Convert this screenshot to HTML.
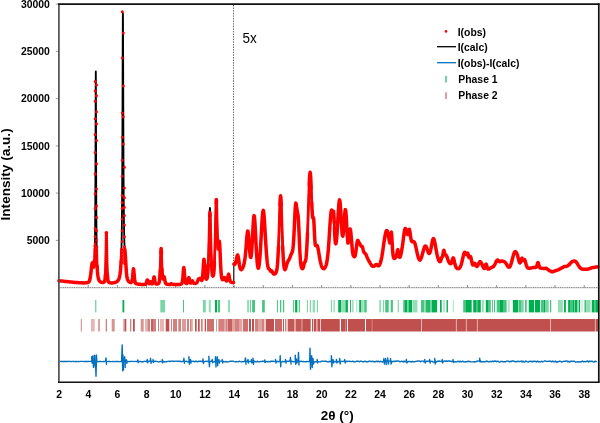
<!DOCTYPE html>
<html><head><meta charset="utf-8"><style>
html,body{margin:0;padding:0;background:#fff;width:600px;height:423px;overflow:hidden}
svg{display:block;will-change:transform;filter:blur(0.45px)}
text{font-family:"Liberation Sans",sans-serif}
.tl{font-size:10.4px;font-weight:bold;fill:#000}
.lg{font-size:10.4px;font-weight:bold;fill:#000}
.fx{font-size:13.5px;fill:#000}
.xt{font-size:13.5px;font-weight:bold;fill:#000}
.yt{font-size:13.6px;font-weight:bold;fill:#000}
</style></head><body>
<svg width="600" height="423" viewBox="0 0 600 423">
<rect width="600" height="423" fill="#fff"/>
<line x1="55.8" y1="240.4" x2="58.5" y2="240.4" stroke="#808080" stroke-width="0.8"/>
<text x="49.8" y="244.0" text-anchor="end" class="tl">5000</text>
<line x1="55.8" y1="193.1" x2="58.5" y2="193.1" stroke="#808080" stroke-width="0.8"/>
<text x="49.8" y="196.7" text-anchor="end" class="tl">10000</text>
<line x1="55.8" y1="145.9" x2="58.5" y2="145.9" stroke="#808080" stroke-width="0.8"/>
<text x="49.8" y="149.5" text-anchor="end" class="tl">15000</text>
<line x1="55.8" y1="98.6" x2="58.5" y2="98.6" stroke="#808080" stroke-width="0.8"/>
<text x="49.8" y="102.2" text-anchor="end" class="tl">20000</text>
<line x1="55.8" y1="51.4" x2="58.5" y2="51.4" stroke="#808080" stroke-width="0.8"/>
<text x="49.8" y="55.0" text-anchor="end" class="tl">25000</text>
<line x1="55.8" y1="4.1" x2="58.5" y2="4.1" stroke="#808080" stroke-width="0.8"/>
<text x="49.8" y="7.7" text-anchor="end" class="tl">30000</text>
<line x1="59.5" y1="287.7" x2="598" y2="287.7" stroke="#707070" stroke-width="1" stroke-dasharray="1.2 0.6"/>
<line x1="88.2" y1="285" x2="88.2" y2="287.7" stroke="#707070" stroke-width="0.8"/>
<line x1="117.4" y1="285" x2="117.4" y2="287.7" stroke="#707070" stroke-width="0.8"/>
<line x1="146.5" y1="285" x2="146.5" y2="287.7" stroke="#707070" stroke-width="0.8"/>
<line x1="175.7" y1="285" x2="175.7" y2="287.7" stroke="#707070" stroke-width="0.8"/>
<line x1="204.9" y1="285" x2="204.9" y2="287.7" stroke="#707070" stroke-width="0.8"/>
<line x1="234.1" y1="285" x2="234.1" y2="287.7" stroke="#707070" stroke-width="0.8"/>
<line x1="263.2" y1="285" x2="263.2" y2="287.7" stroke="#707070" stroke-width="0.8"/>
<line x1="292.4" y1="285" x2="292.4" y2="287.7" stroke="#707070" stroke-width="0.8"/>
<line x1="321.6" y1="285" x2="321.6" y2="287.7" stroke="#707070" stroke-width="0.8"/>
<line x1="350.8" y1="285" x2="350.8" y2="287.7" stroke="#707070" stroke-width="0.8"/>
<line x1="380.0" y1="285" x2="380.0" y2="287.7" stroke="#707070" stroke-width="0.8"/>
<line x1="409.1" y1="285" x2="409.1" y2="287.7" stroke="#707070" stroke-width="0.8"/>
<line x1="438.3" y1="285" x2="438.3" y2="287.7" stroke="#707070" stroke-width="0.8"/>
<line x1="467.5" y1="285" x2="467.5" y2="287.7" stroke="#707070" stroke-width="0.8"/>
<line x1="496.7" y1="285" x2="496.7" y2="287.7" stroke="#707070" stroke-width="0.8"/>
<line x1="525.8" y1="285" x2="525.8" y2="287.7" stroke="#707070" stroke-width="0.8"/>
<line x1="555.0" y1="285" x2="555.0" y2="287.7" stroke="#707070" stroke-width="0.8"/>
<line x1="584.2" y1="285" x2="584.2" y2="287.7" stroke="#707070" stroke-width="0.8"/>
<line x1="233.5" y1="5" x2="233.5" y2="287" stroke="#555" stroke-width="0.9" stroke-dasharray="1.4 1.2"/>
<text x="59.1" y="398.4" text-anchor="middle" class="tl">2</text>
<text x="88.3" y="398.4" text-anchor="middle" class="tl">4</text>
<text x="117.5" y="398.4" text-anchor="middle" class="tl">6</text>
<text x="146.6" y="398.4" text-anchor="middle" class="tl">8</text>
<text x="175.8" y="398.4" text-anchor="middle" class="tl">10</text>
<text x="205.0" y="398.4" text-anchor="middle" class="tl">12</text>
<text x="234.2" y="398.4" text-anchor="middle" class="tl">14</text>
<text x="263.3" y="398.4" text-anchor="middle" class="tl">16</text>
<text x="292.5" y="398.4" text-anchor="middle" class="tl">18</text>
<text x="321.7" y="398.4" text-anchor="middle" class="tl">20</text>
<text x="350.9" y="398.4" text-anchor="middle" class="tl">22</text>
<text x="380.1" y="398.4" text-anchor="middle" class="tl">24</text>
<text x="409.2" y="398.4" text-anchor="middle" class="tl">26</text>
<text x="438.4" y="398.4" text-anchor="middle" class="tl">28</text>
<text x="467.6" y="398.4" text-anchor="middle" class="tl">30</text>
<text x="496.8" y="398.4" text-anchor="middle" class="tl">32</text>
<text x="525.9" y="398.4" text-anchor="middle" class="tl">34</text>
<text x="555.1" y="398.4" text-anchor="middle" class="tl">36</text>
<text x="584.3" y="398.4" text-anchor="middle" class="tl">38</text>
<g fill="none" stroke="#000" stroke-width="1.8" stroke-linejoin="round">
<polyline points="58.90,280.7 59.22,280.8 59.54,280.8 59.86,280.8 60.18,280.9 60.50,280.9 60.82,280.9 61.14,281.0 61.46,281.0 61.78,281.0 62.10,281.1 62.42,281.1 62.74,281.1 63.06,281.2 63.38,281.2 63.70,281.3 64.02,281.3 64.34,281.3 64.66,281.4 64.98,281.4 65.30,281.4 65.62,281.5 65.94,281.5 66.26,281.5 66.58,281.6 66.90,281.6 67.22,281.6 67.54,281.7 67.86,281.7 68.18,281.7 68.50,281.8 68.82,281.8 69.14,281.8 69.46,281.9 69.78,281.9 70.10,281.9 70.42,282.0 70.74,282.0 71.06,282.0 71.38,282.1 71.70,282.1 72.02,282.1 72.34,282.2 72.66,282.2 72.98,282.2 73.30,282.3 73.62,282.3 73.94,282.3 74.26,282.4 74.58,282.4 74.90,282.4 75.22,282.4 75.54,282.5 75.86,282.5 76.18,282.5 76.50,282.5 76.82,282.6 77.14,282.6 77.46,282.6 77.78,282.6 78.10,282.6 78.42,282.7 78.74,282.7 79.06,282.7 79.38,282.7 79.70,282.7 80.02,282.7 80.34,282.8 80.66,282.8 80.98,282.8 81.30,282.8 81.62,282.8 81.94,282.8 82.26,282.8 82.58,282.8 82.90,282.9 83.22,282.9 83.54,282.9 83.86,282.9 84.18,282.9 84.50,282.9 84.82,282.9 85.14,282.8 85.46,282.8 85.78,282.8 86.10,282.8 86.42,282.8 86.74,282.7 87.06,282.7 87.38,282.6 87.70,282.5 88.02,282.4 88.34,282.3 88.66,282.0 88.98,281.7 89.30,281.2 89.62,280.4 89.94,279.3 90.26,277.7 90.58,275.6 90.90,273.0 91.22,270.1 91.54,267.2 91.86,264.6 92.18,263.0 92.50,262.7 92.82,263.5 93.14,265.0 93.46,266.4 93.78,267.1 94.10,266.3 94.42,262.8 94.50,261.3 94.54,260.4 94.58,259.4 94.62,258.3 94.66,257.1 94.70,255.7 94.74,254.2 94.78,252.5 94.82,250.6 94.86,248.5 94.90,246.2 94.94,243.6 94.98,240.7 95.02,237.4 95.06,233.7 95.10,229.5 95.14,224.9 95.18,219.6 95.22,213.7 95.26,207.0 95.30,199.4 95.34,191.0 95.38,181.5 95.42,171.0 95.46,159.4 95.50,146.9 95.54,133.6 95.58,119.9 95.62,106.5 95.66,94.0 95.70,83.4 95.74,75.6 95.78,71.5 95.82,71.5 95.86,75.7 95.90,83.5 95.94,94.2 95.98,106.8 96.02,120.3 96.06,134.1 96.10,147.4 96.14,160.0 96.18,171.7 96.22,182.3 96.26,191.8 96.30,200.4 96.34,208.0 96.38,214.8 96.42,220.8 96.46,226.2 96.50,230.9 96.54,235.2 96.58,239.0 96.62,242.4 96.66,245.5 96.70,248.2 96.74,250.7 96.78,252.9 96.82,254.9 96.86,256.8 96.90,258.4 96.94,260.0 96.98,261.4 97.02,262.6 97.06,263.8 97.10,264.9 97.14,265.9 97.18,266.8 97.22,267.7 97.54,272.7 97.86,275.6 98.18,277.5 98.50,278.8 98.82,279.8 99.14,280.4 99.46,280.9 99.78,281.3 100.10,281.6 100.42,281.9 100.74,282.0 101.06,282.2 101.38,282.3 101.70,282.4 102.02,282.4 102.34,282.5 102.66,282.5 102.98,282.4 103.30,282.4 103.62,282.3 103.94,282.1 104.26,281.8 104.58,281.3 104.90,280.2 105.22,277.0 105.30,275.6 105.34,274.7 105.38,273.8 105.42,272.7 105.46,271.6 105.50,270.3 105.54,268.9 105.58,267.4 105.62,265.8 105.66,264.0 105.70,262.2 105.74,260.2 105.78,258.1 105.82,256.0 105.86,253.8 105.90,251.5 105.94,249.3 105.98,247.0 106.02,244.7 106.06,242.5 106.10,240.4 106.14,238.5 106.18,236.7 106.22,235.1 106.26,233.8 106.30,232.8 106.50,232.8 106.54,233.8 106.58,235.1 106.62,236.7 106.66,238.5 106.70,240.5 106.74,242.6 106.78,244.8 106.82,247.0 106.86,249.3 106.90,251.6 106.94,253.8 106.98,256.0 107.02,258.2 107.06,260.2 107.10,262.2 107.14,264.0 107.18,265.8 107.22,267.4 107.26,268.9 107.30,270.3 107.34,271.6 107.38,272.8 107.42,273.8 107.46,274.8 107.50,275.6 107.82,279.8 108.14,281.2 108.46,281.9 108.78,282.2 109.10,282.4 109.42,282.6 109.74,282.7 110.06,282.8 110.38,282.8 110.70,282.9 111.02,282.9 111.34,282.9 111.66,282.9 111.98,282.9 112.30,282.9 112.62,282.9 112.94,282.8 113.26,282.8 113.58,282.8 113.90,282.7 114.22,282.7 114.54,282.6 114.86,282.5 115.18,282.4 115.50,282.3 115.82,282.2 116.14,282.1 116.46,281.9 116.78,281.7 117.10,281.5 117.42,281.2 117.74,280.8 118.06,280.4 118.38,279.9 118.70,279.3 119.02,278.6 119.34,277.6 119.66,276.3 119.98,274.6 120.30,272.2 120.62,268.9 120.94,264.0 121.02,262.4 121.06,261.6 121.10,260.7 121.14,259.7 121.18,258.6 121.22,257.5 121.26,256.4 121.30,255.1 121.34,253.8 121.38,252.4 121.42,250.9 121.46,249.2 121.50,247.5 121.54,245.6 121.58,243.6 121.62,241.5 121.66,239.2 121.70,236.7 121.74,233.9 121.78,231.0 121.82,227.9 121.86,224.4 121.90,220.7 121.94,216.7 121.98,212.3 122.02,207.5 122.06,202.3 122.10,196.6 122.14,190.4 122.18,183.7 122.22,176.4 122.26,168.4 122.30,159.8 122.34,150.4 122.38,140.4 122.42,129.6 122.46,118.2 122.50,106.1 122.54,93.6 122.58,80.9 122.62,68.1 122.66,55.6 122.70,43.9 122.74,33.3 122.78,24.4 122.82,17.7 122.86,13.5 122.94,13.4 122.98,17.5 123.02,24.2 123.06,32.9 123.10,43.4 123.14,55.0 123.18,67.3 123.22,80.0 123.26,92.7 123.30,105.0 123.34,116.9 123.38,128.2 123.42,138.8 123.46,148.7 123.50,157.9 123.54,166.3 123.58,174.1 123.62,181.2 123.66,187.7 123.70,193.7 123.74,199.1 123.78,204.0 123.82,208.5 123.86,212.6 123.90,216.4 123.94,219.8 123.98,222.8 124.02,225.7 124.06,228.2 124.10,230.5 124.14,232.6 124.18,234.5 124.22,236.3 124.26,237.8 124.30,239.3 124.34,240.6 124.38,241.7 124.42,242.8 124.46,243.7 124.50,244.6 124.82,249.2 125.14,252.5 125.46,256.9 125.78,262.3 126.10,267.8 126.42,272.3 126.74,275.5 127.06,277.7 127.38,279.0 127.70,279.9 128.02,280.5 128.34,281.0 128.66,281.4 128.98,281.7 129.30,281.9 129.62,282.1 129.94,282.3 130.26,282.4 130.58,282.5 130.90,282.5 131.22,282.5 131.54,282.3 131.86,281.7 132.18,280.4 132.50,278.0 132.82,274.6 133.14,270.8 133.46,268.8 133.78,270.2 134.10,273.8 134.42,277.6 134.74,280.4 135.06,282.1 135.38,282.9 135.70,283.3 136.02,283.5 136.34,283.7 136.66,283.8 136.98,283.9 137.30,283.9 137.62,284.0 137.94,284.1 138.26,284.1 138.58,284.2 138.90,284.2 139.22,284.2 139.54,284.3 139.86,284.3 140.18,284.3 140.50,284.3 140.82,284.4 141.14,284.4 141.46,284.4 141.78,284.4 142.10,284.5 142.42,284.5 142.74,284.5 143.06,284.5 143.38,284.5 143.70,284.5 144.02,284.5 144.34,284.5 144.66,284.5 144.98,284.4 145.30,284.3 145.62,284.0 145.94,283.6 146.26,282.8 146.58,281.8 146.90,280.7 147.22,279.9 147.54,279.9 147.86,280.6 148.18,281.6 148.50,282.6 148.82,283.3 149.14,283.7 149.46,283.7 149.78,283.3 150.10,282.5 150.42,281.8 150.74,281.7 151.06,282.4 151.38,283.2 151.70,283.8 152.02,283.9 152.34,283.8 152.66,283.3 152.98,282.3 153.30,280.6 153.62,278.6 153.94,277.0 154.26,277.0 154.58,278.6 154.90,280.6 155.22,282.2 155.54,283.2 155.86,283.8 156.18,284.0 156.50,284.1 156.82,284.1 157.14,284.0 157.46,284.0 157.78,283.9 158.10,283.7 158.42,283.5 158.74,283.2 159.06,282.6 159.38,281.3 159.70,278.5 160.02,273.2 160.06,272.4 160.10,271.5 160.14,270.5 160.18,269.5 160.22,268.5 160.26,267.4 160.30,266.3 160.34,265.2 160.38,264.0 160.42,262.8 160.46,261.6 160.50,260.4 160.54,259.2 160.58,258.1 160.62,256.9 160.66,255.8 160.70,254.7 160.74,253.6 160.78,252.6 160.82,251.7 161.14,248.6 161.38,251.6 161.42,252.5 161.46,253.5 161.50,254.5 161.54,255.6 161.58,256.7 161.62,257.8 161.66,259.0 161.70,260.2 161.74,261.3 161.78,262.5 161.82,263.7 161.86,264.8 161.90,265.9 161.94,267.0 161.98,268.0 162.02,269.0 162.06,269.9 162.10,270.8 162.14,271.7 162.46,276.7 162.78,278.8 163.10,278.8 163.42,277.9 163.74,276.9 164.06,276.8 164.38,277.7 164.70,279.4 165.02,281.0 165.34,282.3 165.66,283.2 165.98,283.7 166.30,284.0 166.62,284.2 166.94,284.2 167.26,284.3 167.58,284.4 167.90,284.4 168.22,284.4 168.54,284.4 168.86,284.5 169.18,284.5 169.50,284.5 169.82,284.4 170.14,284.3 170.46,284.1 170.78,283.9 171.10,283.7 171.42,283.7 171.74,283.9 172.06,284.1 172.38,284.3 172.70,284.4 173.02,284.5 173.34,284.5 173.66,284.6 173.98,284.6 174.30,284.5 174.62,284.5 174.94,284.5 175.26,284.5 175.58,284.5 175.90,284.5 176.22,284.5 176.54,284.5 176.86,284.5 177.18,284.5 177.50,284.5 177.82,284.5 178.14,284.5 178.46,284.5 178.78,284.5 179.10,284.4 179.42,284.4 179.74,284.4 180.06,284.3 180.38,284.3 180.70,284.2 181.02,284.1 181.34,283.9 181.66,283.7 181.98,283.2 182.30,282.1 182.62,280.0 182.94,276.6 183.26,272.2 183.58,268.4 183.90,267.6 184.22,270.5 184.54,274.9 184.86,278.7 185.18,281.2 185.50,282.6 185.82,283.2 186.14,283.4 186.46,283.5 186.78,283.5 187.10,283.3 187.42,282.8 187.74,281.8 188.06,280.4 188.38,278.7 188.70,277.6 189.02,277.9 189.34,279.3 189.66,280.9 189.98,282.1 190.30,282.9 190.62,283.1 190.94,283.0 191.26,282.7 191.58,282.0 191.90,281.3 192.22,280.8 192.54,281.0 192.86,281.6 193.18,282.4 193.50,282.9 193.82,283.2 194.14,283.4 194.46,283.4 194.78,283.4 195.10,283.4 195.42,283.3 195.74,283.3 196.06,283.2 196.38,283.1 196.70,282.8 197.02,282.5 197.34,281.9 197.66,281.0 197.98,280.1 198.30,279.3 198.62,278.9 198.94,278.9 199.26,278.9 199.58,278.8 199.90,278.4 200.22,278.2 200.54,278.4 200.86,279.1 201.18,279.9 201.50,280.3 201.82,280.3 202.14,279.6 202.46,277.8 202.78,274.7 203.10,270.2 203.42,265.0 203.74,260.6 204.06,259.3 204.38,261.8 204.70,266.5 205.02,271.4 205.34,275.2 205.66,277.6 205.98,278.8 206.30,279.2 206.62,279.1 206.94,278.5 207.26,277.3 207.58,275.0 207.90,271.0 208.06,268.1 208.10,267.3 208.14,266.4 208.18,265.5 208.22,264.5 208.26,263.5 208.30,262.4 208.34,261.3 208.38,260.1 208.42,258.8 208.46,257.6 208.50,256.2 208.54,254.8 208.58,253.4 208.62,251.9 208.66,250.4 208.70,248.8 208.74,247.2 208.78,245.5 208.82,243.8 208.86,242.1 208.90,240.4 208.94,238.6 208.98,236.8 209.02,235.0 209.06,233.2 209.10,231.4 209.14,229.6 209.18,227.8 209.22,226.0 209.26,224.3 209.30,222.6 209.34,220.9 209.38,219.3 209.42,217.7 209.46,216.3 209.50,214.9 209.54,213.6 209.58,212.4 209.62,211.3 209.66,210.4 209.98,207.9 210.14,210.2 210.18,211.2 210.22,212.2 210.26,213.4 210.30,214.6 210.34,216.0 210.38,217.4 210.42,219.0 210.46,220.5 210.50,222.2 210.54,223.9 210.58,225.6 210.62,227.3 210.66,229.1 210.70,230.9 210.74,232.7 210.78,234.5 210.82,236.2 210.86,238.0 210.90,239.7 210.94,241.5 210.98,243.2 211.02,244.8 211.06,246.4 211.10,248.0 211.14,249.6 211.18,251.1 211.22,252.5 211.26,254.0 211.30,255.3 211.34,256.6 211.38,257.9 211.42,259.1 211.46,260.2 211.50,261.3 211.54,262.4 211.58,263.4 211.62,264.3 211.66,265.2 211.70,266.1 212.02,271.3 212.34,274.2 212.66,275.6 212.98,275.9 213.30,275.5 213.62,274.1 213.94,271.4 214.26,266.8 214.34,265.2 214.38,264.3 214.42,263.4 214.46,262.5 214.50,261.5 214.54,260.5 214.58,259.4 214.62,258.2 214.66,257.1 214.70,255.8 214.74,254.5 214.78,253.2 214.82,251.8 214.86,250.4 214.90,248.9 214.94,247.4 214.98,245.8 215.02,244.2 215.06,242.6 215.10,240.9 215.14,239.2 215.18,237.5 215.22,235.7 215.26,233.9 215.30,232.1 215.34,230.3 215.38,228.4 215.42,226.6 215.46,224.7 215.50,222.9 215.54,221.1 215.58,219.3 215.62,217.5 215.66,215.8 215.70,214.1 215.74,212.5 215.78,210.9 215.82,209.4 215.86,208.0 215.90,206.6 215.94,205.4 215.98,204.2 216.02,203.2 216.06,202.3 216.38,199.7 216.58,202.7 216.62,203.6 216.66,204.7 216.70,205.8 216.74,207.1 216.78,208.4 216.82,209.8 216.86,211.3 216.90,212.8 216.94,214.3 216.98,215.9 217.02,217.6 217.06,219.2 217.10,220.8 217.14,222.5 217.18,224.1 217.22,225.7 217.26,227.3 217.30,228.9 217.34,230.5 217.38,232.0 217.42,233.5 217.46,234.9 217.50,236.3 217.54,237.6 217.58,238.8 217.62,240.0 217.66,241.2 217.70,242.2 217.74,243.2 217.78,244.2 217.82,245.0 218.14,249.1 218.46,248.8 218.78,245.6 219.10,242.0 219.42,241.3 219.74,244.9 219.86,247.2 219.90,248.1 219.94,249.0 219.98,249.9 220.02,250.8 220.06,251.8 220.10,252.7 220.14,253.7 220.18,254.7 220.22,255.6 220.26,256.6 220.30,257.6 220.34,258.5 220.38,259.5 220.42,260.4 220.46,261.3 220.50,262.2 220.54,263.1 220.58,264.0 220.62,264.8 220.94,270.6 221.26,274.6 221.58,277.1 221.90,278.6 222.22,279.3 222.54,279.7 222.86,279.7 223.18,279.4 223.50,278.9 223.82,278.3 224.14,277.7 224.46,277.5 224.78,277.8 225.10,278.5 225.42,279.3 225.74,280.1 226.06,280.6 226.38,280.9 226.70,280.9 227.02,280.5 227.34,279.5 227.66,278.1 227.98,276.3 228.30,274.8 228.62,274.2 228.94,275.0 229.26,276.7 229.58,278.6 229.90,280.1 230.22,281.1 230.54,281.7 230.86,282.0 231.18,282.2 231.50,282.3 231.82,282.4 232.14,282.4 232.46,282.5 232.78,282.5 233.10,282.6 233.42,282.6 233.58,282.6"/>
<polyline points="233.90,264.1 234.22,264.4 234.54,264.4 234.86,264.2 235.18,263.8 235.50,263.0 235.82,261.8 236.14,260.4 236.46,258.8 236.78,257.3 237.10,255.9 237.42,255.1 237.74,255.1 238.06,256.0 238.38,257.7 238.70,259.8 239.02,262.0 239.34,264.2 239.66,266.1 239.98,267.6 240.30,268.6 240.62,269.3 240.94,269.6 241.26,269.7 241.58,269.5 241.90,269.2 242.22,268.8 242.54,268.2 242.86,267.6 243.18,266.8 243.50,265.9 243.82,264.8 244.14,263.5 244.46,261.9 244.78,259.8 245.10,257.4 245.42,254.5 245.74,251.2 246.06,247.4 246.38,243.2 246.70,239.0 247.02,235.4 247.34,232.6 247.66,231.1 247.98,231.3 248.30,233.2 248.62,236.5 248.94,240.7 249.26,245.2 249.58,249.6 249.90,253.2 250.22,255.9 250.54,257.4 250.86,257.5 251.18,256.2 251.50,253.4 251.82,249.5 252.14,244.2 252.46,238.1 252.78,231.8 253.10,225.8 253.42,220.7 253.74,217.1 254.06,215.6 254.38,216.4 254.70,219.3 255.02,224.0 255.34,229.9 255.50,233.0 255.54,233.8 255.58,234.6 255.62,235.5 255.66,236.3 255.70,237.1 255.74,237.9 255.78,238.7 255.82,239.5 255.86,240.4 255.90,241.2 255.94,242.0 256.26,248.2 256.58,253.8 256.90,258.7 257.22,262.6 257.54,265.5 257.86,267.4 258.18,268.2 258.50,268.1 258.82,267.0 259.14,265.1 259.46,262.3 259.78,258.8 260.10,254.6 260.42,249.7 260.74,244.4 261.06,238.6 261.38,232.7 261.70,226.9 262.02,221.5 262.34,216.8 262.66,213.1 262.98,210.9 263.30,210.4 263.62,211.5 263.94,214.1 264.26,218.1 264.58,222.9 264.90,228.3 265.22,233.9 265.54,239.4 265.86,244.7 266.18,249.6 266.50,254.0 266.82,257.8 267.14,261.1 267.46,263.7 267.78,265.8 268.10,267.3 268.42,268.3 268.74,268.8 269.06,269.0 269.38,269.1 269.70,269.5 270.02,270.1 270.34,270.9 270.66,271.3 270.98,271.4 271.30,271.1 271.62,270.9 271.94,271.1 272.26,271.7 272.58,272.4 272.90,273.1 273.22,273.6 273.54,273.9 273.86,274.0 274.18,274.0 274.50,274.0 274.82,273.9 275.14,273.7 275.46,273.4 275.78,273.0 276.10,272.4 276.42,271.6 276.74,270.2 277.06,268.3 277.38,265.4 277.70,261.5 278.02,256.3 278.14,254.0 278.18,253.1 278.22,252.3 278.26,251.4 278.30,250.5 278.34,249.6 278.38,248.7 278.42,247.7 278.46,246.8 278.50,245.8 278.54,244.7 278.58,243.7 278.62,242.6 278.66,241.6 278.70,240.5 278.74,239.4 278.78,238.2 278.82,237.1 278.86,235.9 278.90,234.7 278.94,233.5 278.98,232.3 279.02,231.1 279.06,229.9 279.10,228.7 279.14,227.4 279.18,226.2 279.22,224.9 279.26,223.7 279.30,222.4 279.34,221.2 279.38,219.9 279.42,218.7 279.46,217.4 279.50,216.2 279.54,215.0 279.58,213.8 279.62,212.6 279.66,211.4 279.70,210.3 279.74,209.2 279.78,208.1 279.82,207.0 279.86,206.0 279.90,205.0 279.94,204.0 279.98,203.1 280.02,202.2 280.06,201.4 280.38,196.6 280.70,195.9 281.02,199.3 281.14,201.6 281.18,202.5 281.22,203.4 281.26,204.3 281.30,205.3 281.34,206.3 281.38,207.4 281.42,208.4 281.46,209.5 281.50,210.7 281.54,211.8 281.58,213.0 281.62,214.2 281.66,215.4 281.70,216.7 281.74,217.9 281.78,219.2 281.82,220.4 281.86,221.7 281.90,223.0 281.94,224.2 281.98,225.5 282.02,226.7 282.06,228.0 282.10,229.2 282.14,230.4 282.18,231.7 282.22,232.9 282.26,234.1 282.30,235.3 282.34,236.5 282.38,237.6 282.42,238.8 282.46,239.9 282.50,241.0 282.54,242.1 282.58,243.2 282.62,244.2 282.66,245.3 282.70,246.3 282.74,247.3 282.78,248.2 282.82,249.2 282.86,250.1 282.90,251.0 282.94,251.9 282.98,252.7 283.02,253.5 283.34,259.3 283.66,263.6 283.98,266.5 284.30,268.4 284.62,269.3 284.94,269.6 285.26,269.3 285.58,268.6 285.90,267.6 286.22,266.5 286.54,265.3 286.86,264.1 287.18,263.1 287.50,262.2 287.82,261.6 288.14,261.0 288.46,260.5 288.78,260.0 289.10,259.4 289.42,258.8 289.74,258.0 290.06,257.2 290.38,256.3 290.70,255.4 291.02,254.6 291.34,253.9 291.66,253.2 291.98,252.6 292.30,251.8 292.62,250.5 292.94,248.5 293.26,245.5 293.58,241.3 293.90,235.9 294.10,232.0 294.14,231.2 294.18,230.4 294.22,229.5 294.26,228.7 294.30,227.8 294.34,226.9 294.38,226.1 294.42,225.2 294.46,224.3 294.50,223.4 294.54,222.5 294.58,221.6 294.62,220.7 294.66,219.8 294.70,218.9 294.74,218.0 294.78,217.1 294.82,216.3 294.86,215.4 294.90,214.6 294.94,213.8 294.98,212.9 295.30,207.3 295.62,203.9 295.94,203.1 296.26,204.4 296.58,206.9 296.90,209.5 297.22,211.4 297.54,212.7 297.86,214.0 298.18,216.5 298.50,220.9 298.66,223.9 298.70,224.8 298.74,225.6 298.78,226.5 298.82,227.4 298.86,228.3 298.90,229.2 298.94,230.2 298.98,231.1 299.02,232.1 299.06,233.0 299.10,234.0 299.14,235.0 299.18,235.9 299.22,236.9 299.26,237.9 299.30,238.9 299.34,239.8 299.38,240.8 299.42,241.7 299.46,242.6 299.50,243.6 299.54,244.5 299.58,245.4 299.62,246.3 299.66,247.1 299.70,248.0 299.74,248.8 299.78,249.6 300.10,255.5 300.42,260.0 300.74,263.4 301.06,265.6 301.38,267.1 301.70,268.0 302.02,268.5 302.34,268.7 302.66,268.6 302.98,268.3 303.30,267.5 303.62,266.3 303.94,264.7 304.26,263.2 304.58,262.3 304.90,261.9 305.22,261.7 305.54,260.9 305.86,259.2 306.18,256.5 306.50,252.6 306.82,247.6 307.06,243.0 307.10,242.2 307.14,241.4 307.18,240.5 307.22,239.7 307.26,238.8 307.30,237.9 307.34,236.9 307.38,236.0 307.42,235.0 307.46,234.1 307.50,233.1 307.54,232.1 307.58,231.0 307.62,230.0 307.66,228.9 307.70,227.9 307.74,226.8 307.78,225.7 307.82,224.6 307.86,223.5 307.90,222.4 307.94,221.2 307.98,220.1 308.02,218.9 308.06,217.7 308.10,216.5 308.14,215.4 308.18,214.2 308.22,213.0 308.26,211.8 308.30,210.5 308.34,209.3 308.38,208.1 308.42,206.9 308.46,205.7 308.50,204.5 308.54,203.3 308.58,202.0 308.62,200.8 308.66,199.6 308.70,198.4 308.74,197.3 308.78,196.1 308.82,194.9 308.86,193.8 308.90,192.6 308.94,191.5 308.98,190.4 309.02,189.3 309.06,188.2 309.10,187.2 309.14,186.1 309.18,185.1 309.22,184.2 309.26,183.2 309.30,182.3 309.34,181.4 309.38,180.6 309.42,179.7 309.74,174.6 310.06,172.4 310.38,173.3 310.70,177.3 310.90,181.0 310.94,181.9 310.98,182.8 311.02,183.7 311.06,184.6 311.10,185.5 311.14,186.5 311.18,187.4 311.22,188.4 311.26,189.4 311.30,190.5 311.34,191.5 311.38,192.5 311.42,193.6 311.46,194.6 311.50,195.6 311.54,196.7 311.58,197.7 311.62,198.8 311.66,199.8 311.70,200.8 311.74,201.8 311.78,202.8 311.82,203.8 311.86,204.8 311.90,205.7 311.94,206.7 311.98,207.5 312.02,208.4 312.06,209.3 312.38,214.8 312.70,217.7 313.02,218.3 313.34,217.7 313.66,218.6 313.98,223.0 314.02,223.8 314.06,224.6 314.10,225.5 314.14,226.4 314.18,227.2 314.22,228.1 314.26,229.0 314.30,229.9 314.34,230.8 314.38,231.7 314.42,232.6 314.46,233.4 314.50,234.3 314.54,235.1 314.86,240.6 315.18,243.9 315.50,245.4 315.82,245.7 316.14,245.5 316.46,245.2 316.78,245.2 317.10,245.4 317.42,246.1 317.74,247.2 318.06,248.6 318.38,250.3 318.70,252.1 319.02,254.1 319.34,256.0 319.66,257.9 319.98,259.6 320.30,261.3 320.62,262.7 320.94,264.0 321.26,265.1 321.58,266.1 321.90,266.9 322.22,267.5 322.54,267.9 322.86,268.3 323.18,268.5 323.50,268.7 323.82,268.7 324.14,268.6 324.46,268.3 324.78,268.0 325.10,267.5 325.42,267.0 325.74,266.3 326.06,265.4 326.38,264.2 326.70,262.8 327.02,261.1 327.34,259.0 327.66,256.4 327.98,253.4 328.30,249.8 328.62,245.8 328.94,241.3 329.26,236.4 329.58,231.2 329.90,225.9 330.22,221.4 330.54,217.3 330.86,213.8 331.18,211.4 331.50,210.1 331.82,210.0 332.14,210.6 332.46,211.4 332.78,211.7 333.10,211.3 333.42,211.0 333.74,212.8 334.02,217.3 334.06,218.1 334.10,219.0 334.14,220.0 334.18,220.9 334.22,221.9 334.26,222.9 334.30,223.9 334.34,224.9 334.38,225.9 334.42,226.9 334.46,227.9 334.50,228.9 334.54,229.8 334.58,230.8 334.62,231.7 334.66,232.6 334.70,233.5 334.74,234.4 334.78,235.2 335.10,240.4 335.42,243.2 335.74,243.8 336.06,243.0 336.38,241.0 336.70,237.9 337.02,233.8 337.34,228.9 337.66,223.5 337.98,217.9 338.30,212.4 338.62,207.5 338.94,203.4 339.26,200.8 339.58,199.9 339.90,200.8 340.22,203.6 340.54,207.9 340.86,213.2 341.18,219.0 341.50,224.7 341.82,229.9 342.14,233.5 342.46,235.5 342.78,236.1 343.10,235.1 343.42,232.6 343.74,228.9 344.06,224.3 344.38,219.3 344.70,214.7 345.02,211.2 345.34,209.6 345.66,210.2 345.98,213.1 346.30,217.8 346.62,223.5 346.94,229.5 347.26,235.1 347.58,239.7 347.90,243.1 348.22,242.8 348.54,241.1 348.86,238.5 349.18,235.3 349.50,232.2 349.82,229.9 350.14,229.0 350.46,229.7 350.78,231.9 351.10,235.1 351.42,239.0 351.74,243.1 352.06,246.8 352.38,250.1 352.70,252.8 353.02,254.6 353.34,255.8 353.66,256.2 353.98,256.3 354.30,256.8 354.62,256.7 354.94,256.2 355.26,255.1 355.58,253.5 355.90,251.5 356.22,249.1 356.54,246.4 356.86,243.9 357.18,241.8 357.50,240.6 357.82,240.3 358.14,240.8 358.46,241.5 358.78,242.3 359.10,242.9 359.42,243.4 359.74,243.6 360.06,244.1 360.38,244.9 360.70,245.6 361.02,246.1 361.34,246.3 361.66,246.3 361.98,246.3 362.30,246.7 362.62,247.6 362.94,248.9 363.26,250.2 363.58,251.3 363.90,252.0 364.22,252.5 364.54,252.9 364.86,253.2 365.18,253.5 365.50,253.8 365.82,254.2 366.14,254.9 366.46,255.6 366.78,256.4 367.10,257.2 367.42,257.9 367.74,258.7 368.06,259.3 368.38,260.0 368.70,260.6 369.02,261.2 369.34,261.7 369.66,262.3 369.98,262.8 370.30,263.4 370.62,263.9 370.94,264.4 371.26,264.9 371.58,265.3 371.90,265.8 372.22,266.0 372.54,266.2 372.86,266.3 373.18,266.3 373.50,266.3 373.82,266.3 374.14,266.2 374.46,266.0 374.78,265.7 375.10,265.4 375.42,265.1 375.74,264.8 376.06,264.6 376.38,264.5 376.70,264.5 377.02,264.7 377.34,265.0 377.66,265.4 377.98,265.8 378.30,265.8 378.62,265.7 378.94,265.6 379.26,265.3 379.58,264.8 379.90,264.2 380.22,263.4 380.54,262.4 380.86,261.3 381.18,260.0 381.50,258.4 381.82,256.8 382.14,254.9 382.46,253.0 382.78,250.9 383.10,248.6 383.42,246.3 383.74,244.0 384.06,241.8 384.38,239.7 384.70,237.8 385.02,235.9 385.34,234.2 385.66,232.8 385.98,231.7 386.30,230.9 386.62,230.5 386.94,230.5 387.26,230.9 387.58,231.8 387.90,233.0 388.22,234.6 388.54,236.4 388.86,238.3 389.18,240.2 389.50,241.9 389.82,242.9 390.14,242.0 390.46,239.4 390.78,235.8 391.10,232.6 391.42,232.1 391.74,235.5 392.06,241.3 392.38,247.2 392.70,251.8 393.02,254.9 393.34,256.7 393.66,257.7 393.98,258.2 394.30,258.4 394.62,258.4 394.94,258.3 395.26,258.0 395.58,257.6 395.90,256.9 396.22,256.6 396.54,255.8 396.86,254.2 397.18,252.2 397.50,250.4 397.82,249.7 398.14,250.7 398.46,252.8 398.78,254.9 399.10,256.3 399.42,257.1 399.74,257.3 400.06,256.9 400.38,256.2 400.70,255.2 401.02,254.0 401.34,252.4 401.66,250.5 401.98,248.4 402.30,246.6 402.62,244.5 402.94,242.2 403.26,239.7 403.58,237.2 403.90,234.7 404.22,232.4 404.54,230.5 404.86,229.2 405.18,228.4 405.50,228.4 405.82,229.1 406.14,230.2 406.46,231.6 406.78,232.9 407.10,233.9 407.42,234.5 407.74,234.6 408.06,233.7 408.38,232.1 408.70,230.6 409.02,229.5 409.34,229.4 409.66,230.3 409.98,232.1 410.30,234.3 410.62,236.6 410.94,238.6 411.26,240.1 411.58,241.1 411.90,241.6 412.22,241.8 412.54,241.8 412.86,241.6 413.18,241.5 413.50,241.5 413.82,241.7 414.14,241.9 414.46,242.4 414.78,243.1 415.10,244.1 415.42,245.2 415.74,246.5 416.06,247.9 416.38,249.4 416.70,250.9 417.02,252.4 417.34,253.9 417.66,255.2 417.98,256.4 418.30,257.5 418.62,258.4 418.94,259.1 419.26,259.6 419.58,259.9 419.90,260.1 420.22,259.8 420.54,259.4 420.86,258.9 421.18,258.1 421.50,257.2 421.82,256.2 422.14,255.1 422.46,253.9 422.78,252.7 423.10,251.5 423.42,250.3 423.74,249.2 424.06,248.2 424.38,247.3 424.70,246.6 425.02,246.2 425.34,246.0 425.66,246.0 425.98,246.3 426.30,246.9 426.62,247.6 426.94,248.5 427.26,249.5 427.58,250.5 427.90,251.4 428.22,252.3 428.54,252.9 428.86,253.3 429.18,253.5 429.50,253.3 429.82,252.8 430.14,252.0 430.46,250.9 430.78,249.6 431.10,248.0 431.42,246.3 431.74,244.5 432.06,242.7 432.38,241.2 432.70,239.9 433.02,239.0 433.34,238.6 433.66,238.7 433.98,239.3 434.30,240.2 434.62,241.6 434.94,243.1 435.26,244.9 435.58,246.7 435.90,248.5 436.22,250.3 436.54,252.0 436.86,253.6 437.18,255.1 437.50,256.4 437.82,257.6 438.14,258.7 438.46,259.6 438.78,260.4 439.10,261.0 439.42,261.5 439.74,261.8 440.06,261.8 440.38,261.5 440.70,260.8 441.02,259.7 441.34,258.5 441.66,257.6 441.98,257.2 442.30,257.0 442.62,256.3 442.94,254.7 443.26,252.5 443.58,250.8 443.90,250.3 444.22,251.3 444.54,252.7 444.86,253.8 445.18,254.5 445.50,254.8 445.82,255.0 446.14,255.2 446.46,255.7 446.78,256.3 447.10,257.2 447.42,258.1 447.74,259.1 448.06,260.0 448.38,260.9 448.70,261.6 449.02,262.3 449.34,262.8 449.66,263.2 449.98,263.5 450.30,263.8 450.62,263.8 450.94,263.6 451.26,263.2 451.58,262.5 451.90,261.5 452.22,260.4 452.54,259.3 452.86,258.3 453.18,257.9 453.50,258.2 453.82,259.1 454.14,260.5 454.46,262.0 454.78,263.5 455.10,264.8 455.42,265.8 455.74,266.6 456.06,267.2 456.38,267.7 456.70,268.1 457.02,268.3 457.34,268.5 457.66,268.6 457.98,268.7 458.30,268.7 458.62,268.7 458.94,268.6 459.26,268.3 459.58,268.0 459.90,267.6 460.22,267.0 460.54,266.4 460.86,265.5 461.18,264.6 461.50,263.5 461.82,262.3 462.14,261.0 462.46,259.6 462.78,258.1 463.10,256.7 463.42,255.4 463.74,254.2 464.06,253.3 464.38,252.6 464.70,252.3 465.02,252.3 465.34,252.7 465.66,253.3 465.98,254.1 466.30,254.6 466.62,254.8 466.94,254.5 467.26,253.7 467.58,253.0 467.90,253.3 468.22,254.6 468.54,256.2 468.86,257.3 469.18,257.7 469.50,257.4 469.82,256.8 470.14,256.4 470.46,256.4 470.78,257.1 471.10,258.4 471.42,260.0 471.74,261.7 472.06,263.1 472.38,264.3 472.70,264.9 473.02,265.1 473.34,265.0 473.66,264.5 473.98,264.0 474.30,263.5 474.62,263.3 474.94,263.5 475.26,264.1 475.58,264.8 475.90,265.5 476.22,266.0 476.54,266.4 476.86,266.5 477.18,266.4 477.50,266.0 477.82,265.4 478.14,264.7 478.46,264.0 478.78,263.2 479.10,262.6 479.42,262.1 479.74,261.7 480.06,261.6 480.38,261.7 480.70,262.0 481.02,262.4 481.34,263.0 481.66,263.7 481.98,264.5 482.30,265.3 482.62,266.0 482.94,266.7 483.26,267.3 483.58,267.9 483.90,268.2 484.22,268.5 484.54,268.4 484.86,267.9 485.18,266.9 485.50,265.6 485.82,264.4 486.14,264.0 486.46,264.7 486.78,266.0 487.10,267.3 487.42,268.3 487.74,268.8 488.06,269.1 488.38,269.1 488.70,269.1 489.02,269.0 489.34,268.8 489.66,268.7 489.98,268.5 490.30,268.3 490.62,268.1 490.94,267.9 491.26,267.7 491.58,267.4 491.90,267.2 492.22,267.1 492.54,267.0 492.86,266.9 493.18,266.7 493.50,266.4 493.82,266.1 494.14,265.6 494.46,265.1 494.78,264.6 495.10,263.9 495.42,263.3 495.74,262.5 496.06,261.9 496.38,261.2 496.70,260.7 497.02,260.3 497.34,260.0 497.66,260.0 497.98,260.1 498.30,260.4 498.62,260.8 498.94,261.2 499.26,261.5 499.58,261.7 499.90,261.8 500.22,261.7 500.54,261.6 500.86,261.4 501.18,261.2 501.50,261.0 501.82,261.0 502.14,261.0 502.46,261.1 502.78,261.3 503.10,261.4 503.42,261.5 503.74,261.6 504.06,261.7 504.38,261.8 504.70,262.0 505.02,262.2 505.34,262.5 505.66,262.9 505.98,263.4 506.30,263.9 506.62,264.5 506.94,265.0 507.26,265.6 507.58,266.1 507.90,266.5 508.22,266.9 508.54,267.1 508.86,267.2 509.18,267.2 509.50,267.1 509.82,266.8 510.14,266.3 510.46,265.6 510.78,264.7 511.10,263.7 511.42,262.7 511.74,261.5 512.06,260.3 512.38,259.0 512.70,257.8 513.02,256.6 513.34,255.4 513.66,254.3 513.98,253.4 514.30,252.6 514.62,252.0 514.94,251.7 515.26,251.6 515.58,251.7 515.90,252.0 516.22,252.4 516.54,252.9 516.86,253.5 517.18,254.3 517.50,255.3 517.82,256.5 518.14,257.8 518.46,259.2 518.78,260.4 519.10,261.5 519.42,262.3 519.74,262.8 520.06,263.0 520.38,262.6 520.70,261.8 521.02,260.5 521.34,259.3 521.66,258.4 521.98,258.2 522.30,258.7 522.62,259.5 522.94,260.1 523.26,260.4 523.58,260.2 523.90,259.9 524.22,259.6 524.54,259.6 524.86,260.0 525.18,260.9 525.50,262.0 525.82,263.3 526.14,264.5 526.46,265.5 526.78,266.4 527.10,267.0 527.42,267.5 527.74,267.8 528.06,268.0 528.38,268.2 528.70,268.2 529.02,268.3 529.34,268.3 529.66,268.3 529.98,268.2 530.30,268.2 530.62,268.1 530.94,268.1 531.26,268.0 531.58,267.9 531.90,267.8 532.22,267.8 532.54,267.7 532.86,267.6 533.18,267.5 533.50,267.4 533.82,267.3 534.14,267.3 534.46,267.4 534.78,267.4 535.10,267.4 535.42,267.4 535.74,267.4 536.06,267.3 536.38,267.0 536.70,266.4 537.02,265.4 537.34,264.2 537.66,263.0 537.98,262.5 538.30,263.0 538.62,264.2 538.94,265.6 539.26,266.6 539.58,267.4 539.90,267.8 540.22,268.0 540.54,268.1 540.86,268.2 541.18,268.2 541.50,268.2 541.82,268.3 542.14,268.3 542.46,268.3 542.78,268.3 543.10,268.4 543.42,268.4 543.74,268.4 544.06,268.4 544.38,268.4 544.70,268.4 545.02,268.4 545.34,268.3 545.66,268.3 545.98,268.2 546.30,268.3 546.62,268.5 546.94,268.7 547.26,269.0 547.58,269.3 547.90,269.6 548.22,269.8 548.54,270.0 548.86,270.2 549.18,270.4 549.50,270.6 549.82,270.7 550.14,270.9 550.46,271.1 550.78,271.3 551.10,271.5 551.42,271.7 551.74,271.8 552.06,271.9 552.38,271.8 552.70,271.7 553.02,271.6 553.34,271.5 553.66,271.4 553.98,271.2 554.30,271.1 554.62,271.0 554.94,270.9 555.26,270.8 555.58,270.7 555.90,270.6 556.22,270.5 556.54,270.4 556.86,270.3 557.18,270.2 557.50,270.1 557.82,270.0 558.14,269.8 558.46,269.7 558.78,269.5 559.10,269.3 559.42,269.2 559.74,269.0 560.06,268.8 560.38,268.7 560.70,268.5 561.02,268.3 561.34,268.2 561.66,268.0 561.98,267.8 562.30,267.6 562.62,267.5 562.94,267.3 563.26,267.1 563.58,266.9 563.90,266.7 564.22,266.6 564.54,266.5 564.86,266.5 565.18,266.5 565.50,266.4 565.82,266.4 566.14,266.4 566.46,266.3 566.78,266.2 567.10,266.1 567.42,265.9 567.74,265.8 568.06,265.6 568.38,265.3 568.70,265.1 569.02,264.8 569.34,264.4 569.66,264.1 569.98,263.7 570.30,263.4 570.62,263.1 570.94,262.8 571.26,262.4 571.58,262.1 571.90,261.8 572.22,261.6 572.54,261.4 572.86,261.3 573.18,261.2 573.50,261.1 573.82,261.1 574.14,261.1 574.46,261.1 574.78,261.1 575.10,261.2 575.42,261.4 575.74,261.6 576.06,261.9 576.38,262.3 576.70,262.7 577.02,263.2 577.34,263.8 577.66,264.3 577.98,264.9 578.30,265.4 578.62,265.9 578.94,266.4 579.26,266.8 579.58,267.2 579.90,267.6 580.22,267.9 580.54,268.2 580.86,268.4 581.18,268.6 581.50,268.8 581.82,269.0 582.14,269.1 582.46,269.1 582.78,269.2 583.10,269.2 583.42,269.3 583.74,269.3 584.06,269.3 584.38,269.3 584.70,269.3 585.02,269.3 585.34,269.3 585.66,269.3 585.98,269.3 586.30,269.3 586.62,269.3 586.94,269.3 587.26,269.2 587.58,269.2 587.90,269.2 588.22,269.1 588.54,269.0 588.86,268.8 589.18,268.7 589.50,268.6 589.82,268.5 590.14,268.4 590.46,268.2 590.78,268.1 591.10,268.0 591.42,267.9 591.74,267.8 592.06,267.7 592.38,267.6 592.70,267.6 593.02,267.5 593.34,267.5 593.66,267.5 593.98,267.4 594.30,267.4 594.62,267.3 594.94,267.2 595.26,267.2 595.58,267.1 595.90,267.1 596.22,267.0 596.54,267.0 596.86,267.0 597.18,266.9 597.50,266.9 597.82,266.8 597.86,266.8"/>
<line x1="233.75" y1="283.5" x2="233.75" y2="265.5" stroke="#333" stroke-width="1.4"/>
</g>
<g fill="none" stroke="#ff0000" stroke-width="3.5" stroke-linejoin="round" stroke-linecap="round">
<polyline points="58.90,280.7 59.22,280.8 59.54,280.8 59.86,280.8 60.18,280.9 60.50,280.9 60.82,280.9 61.14,281.0 61.46,281.0 61.78,281.0 62.10,281.1 62.42,281.1 62.74,281.1 63.06,281.2 63.38,281.2 63.70,281.3 64.02,281.3 64.34,281.3 64.66,281.4 64.98,281.4 65.30,281.4 65.62,281.5 65.94,281.5 66.26,281.5 66.58,281.6 66.90,281.6 67.22,281.6 67.54,281.7 67.86,281.7 68.18,281.7 68.50,281.8 68.82,281.8 69.14,281.8 69.46,281.9 69.78,281.9 70.10,281.9 70.42,282.0 70.74,282.0 71.06,282.0 71.38,282.1 71.70,282.1 72.02,282.1 72.34,282.2 72.66,282.2 72.98,282.2 73.30,282.3 73.62,282.3 73.94,282.3 74.26,282.4 74.58,282.4 74.90,282.4 75.22,282.4 75.54,282.5 75.86,282.5 76.18,282.5 76.50,282.5 76.82,282.6 77.14,282.6 77.46,282.6 77.78,282.6 78.10,282.6 78.42,282.7 78.74,282.7 79.06,282.7 79.38,282.7 79.70,282.7 80.02,282.7 80.34,282.8 80.66,282.8 80.98,282.8 81.30,282.8 81.62,282.8 81.94,282.8 82.26,282.8 82.58,282.8 82.90,282.9 83.22,282.9 83.54,282.9 83.86,282.9 84.18,282.9 84.50,282.9 84.82,282.9 85.14,282.8 85.46,282.8 85.78,282.8 86.10,282.8 86.42,282.8 86.74,282.7 87.06,282.7 87.38,282.6 87.70,282.5 88.02,282.4 88.34,282.3 88.66,282.0 88.98,281.7 89.30,281.2 89.62,280.4 89.94,279.3 90.26,277.7 90.58,275.6 90.90,273.0 91.22,270.1 91.54,267.2 91.86,264.6 92.18,263.0 92.50,262.7 92.82,263.5 93.14,265.0 93.46,266.4 93.78,267.1 94.10,266.3 94.42,262.8 94.54,260.4"/>
<polyline points="97.14,265.9 97.46,271.7 97.78,275.0 98.10,277.1 98.42,278.6 98.74,279.6 99.06,280.3 99.38,280.8 99.70,281.2 100.02,281.6 100.34,281.8 100.66,282.0 100.98,282.2 101.30,282.3 101.62,282.4 101.94,282.4 102.26,282.5 102.58,282.5 102.90,282.5 103.22,282.4 103.54,282.3 103.86,282.2 104.18,281.9 104.50,281.5 104.82,280.6 105.14,278.1 105.34,274.7"/>
<polyline points="106.30,232.8 106.50,232.8"/>
<polyline points="107.46,274.8 107.78,279.4 108.10,281.1 108.42,281.8 108.74,282.2 109.06,282.4 109.38,282.6 109.70,282.7 110.02,282.8 110.34,282.8 110.66,282.9 110.98,282.9 111.30,282.9 111.62,282.9 111.94,282.9 112.26,282.9 112.58,282.9 112.90,282.8 113.22,282.8 113.54,282.8 113.86,282.7 114.18,282.7 114.50,282.6 114.82,282.5 115.14,282.4 115.46,282.3 115.78,282.2 116.10,282.1 116.42,281.9 116.74,281.7 117.06,281.5 117.38,281.2 117.70,280.9 118.02,280.5 118.34,280.0 118.66,279.4 118.98,278.7 119.30,277.7 119.62,276.5 119.94,274.8 120.26,272.6 120.58,269.4 120.90,264.8 121.10,260.7"/>
<polyline points="124.82,249.2 125.14,252.5 125.46,256.9 125.78,262.3 126.10,267.8 126.42,272.3 126.74,275.5 127.06,277.7 127.38,279.0 127.70,279.9 128.02,280.5 128.34,281.0 128.66,281.4 128.98,281.7 129.30,281.9 129.62,282.1 129.94,282.3 130.26,282.4 130.58,282.5 130.90,282.5 131.22,282.5 131.54,282.3 131.86,281.7 132.18,280.4 132.50,278.0 132.82,274.6 133.14,270.8 133.46,268.8 133.78,270.2 134.10,273.8 134.42,277.6 134.74,280.4 135.06,282.1 135.38,282.9 135.70,283.3 136.02,283.5 136.34,283.7 136.66,283.8 136.98,283.9 137.30,283.9 137.62,284.0 137.94,284.1 138.26,284.1 138.58,284.2 138.90,284.2 139.22,284.2 139.54,284.3 139.86,284.3 140.18,284.3 140.50,284.3 140.82,284.4 141.14,284.4 141.46,284.4 141.78,284.4 142.10,284.5 142.42,284.5 142.74,284.5 143.06,284.5 143.38,284.5 143.70,284.5 144.02,284.5 144.34,284.5 144.66,284.5 144.98,284.4 145.30,284.3 145.62,284.0 145.94,283.6 146.26,282.8 146.58,281.8 146.90,280.7 147.22,279.9 147.54,279.9 147.86,280.6 148.18,281.6 148.50,282.6 148.82,283.3 149.14,283.7 149.46,283.7 149.78,283.3 150.10,282.5 150.42,281.8 150.74,281.7 151.06,282.4 151.38,283.2 151.70,283.8 152.02,283.9 152.34,283.8 152.66,283.3 152.98,282.3 153.30,280.6 153.62,278.6 153.94,277.0 154.26,277.0 154.58,278.6 154.90,280.6 155.22,282.2 155.54,283.3 155.86,283.8 156.18,284.0 156.50,284.1 156.82,284.1 157.14,284.0 157.46,284.0 157.78,283.9 158.10,283.7 158.42,283.5 158.74,283.2 159.06,282.6 159.38,281.3 159.70,278.5 160.02,273.2 160.14,270.5"/>
<polyline points="160.78,252.6 161.10,248.5 161.42,252.5 161.46,253.5"/>
<polyline points="162.02,269.0 162.34,275.2 162.66,278.3 162.98,279.0 163.30,278.3 163.62,277.2 163.94,276.7 164.26,277.2 164.58,278.7 164.90,280.4 165.22,281.9 165.54,282.9 165.86,283.6 166.18,283.9 166.50,284.1 166.82,284.2 167.14,284.3 167.46,284.3 167.78,284.4 168.10,284.4 168.42,284.4 168.74,284.5 169.06,284.5 169.38,284.5 169.70,284.4 170.02,284.4 170.34,284.2 170.66,284.0 170.98,283.8 171.30,283.7 171.62,283.8 171.94,284.0 172.26,284.2 172.58,284.4 172.90,284.5 173.22,284.5 173.54,284.6 173.86,284.6 174.18,284.5 174.50,284.5 174.82,284.5 175.14,284.5 175.46,284.5 175.78,284.5 176.10,284.5 176.42,284.5 176.74,284.5 177.06,284.5 177.38,284.5 177.70,284.5 178.02,284.5 178.34,284.5 178.66,284.5 178.98,284.5 179.30,284.4 179.62,284.4 179.94,284.4 180.26,284.3 180.58,284.2 180.90,284.1 181.22,284.0 181.54,283.8 181.86,283.4 182.18,282.6 182.50,280.9 182.82,278.0 183.14,273.9 183.46,269.6 183.78,267.4 184.10,269.1 184.42,273.2 184.74,277.4 185.06,280.4 185.38,282.2 185.70,283.0 186.02,283.3 186.34,283.5 186.66,283.5 186.98,283.4 187.30,283.0 187.62,282.2 187.94,281.0 188.26,279.3 188.58,277.9 188.90,277.6 189.22,278.7 189.54,280.3 189.86,281.7 190.18,282.7 190.50,283.1 190.82,283.1 191.14,282.8 191.46,282.3 191.78,281.6 192.10,280.9 192.42,280.8 192.74,281.4 193.06,282.1 193.38,282.7 193.70,283.1 194.02,283.3 194.34,283.4 194.66,283.4 194.98,283.4 195.30,283.4 195.62,283.3 195.94,283.2 196.26,283.1 196.58,283.0 196.90,282.6 197.22,282.1 197.54,281.4 197.86,280.5 198.18,279.6 198.50,279.0 198.82,278.9 199.14,279.0 199.46,278.9 199.78,278.6 200.10,278.2 200.42,278.3 200.74,278.8 201.06,279.6 201.38,280.2 201.70,280.4 202.02,280.0 202.34,278.7 202.66,276.1 202.98,272.1 203.30,267.0 203.62,262.0 203.94,259.3 204.26,260.4 204.58,264.6 204.90,269.7 205.22,274.0 205.54,276.9 205.86,278.5 206.18,279.2 206.50,279.3 206.82,279.0 207.14,278.1 207.46,276.4 207.78,273.4 208.10,268.3 208.26,264.7"/>
<polyline points="209.62,216.0 209.94,212.6 210.18,215.8"/>
<polyline points="211.54,263.6 211.86,269.8 212.18,273.5 212.50,275.4 212.82,276.1 213.14,276.0 213.46,275.1 213.78,273.1 214.10,269.5 214.42,263.5 214.46,262.6"/>
<polyline points="216.02,203.2 216.34,199.5 216.58,202.7"/>
<polyline points="217.74,243.3 218.06,248.6 218.38,249.2 218.70,246.5 219.02,242.8 219.34,241.1 219.66,243.6 219.98,249.9 220.30,257.6 220.62,264.8 220.94,270.6 221.26,274.6 221.58,277.1 221.90,278.6 222.22,279.3 222.54,279.7 222.86,279.7 223.18,279.4 223.50,278.9 223.82,278.3 224.14,277.7 224.46,277.5 224.78,277.8 225.10,278.5 225.42,279.3 225.74,280.1 226.06,280.6 226.38,280.9 226.70,280.9 227.02,280.5 227.34,279.5 227.66,278.1 227.98,276.3 228.30,274.8 228.62,274.2 228.94,275.0 229.26,276.7 229.58,278.6 229.90,280.1 230.22,281.1 230.54,281.7 230.86,282.0 231.18,282.2 231.50,282.3 231.82,282.4 232.14,282.4 232.46,282.5 232.78,282.5 233.10,282.6 233.42,282.6 233.58,282.6"/>
<polyline points="233.90,264.1 234.22,264.4 234.54,264.4 234.86,264.2 235.18,263.8 235.50,263.0 235.82,261.8 236.14,260.4 236.46,258.8 236.78,257.3 237.10,255.9 237.42,255.1 237.74,255.1 238.06,256.0 238.38,257.7 238.70,259.8 239.02,262.0 239.34,264.2 239.66,266.1 239.98,267.6 240.30,268.6 240.62,269.3 240.94,269.6 241.26,269.7 241.58,269.5 241.90,269.2 242.22,268.8 242.54,268.2 242.86,267.6 243.18,266.8 243.50,265.9 243.82,264.8 244.14,263.5 244.46,261.9 244.78,259.8 245.10,257.4 245.42,254.5 245.74,251.2 246.06,247.4 246.38,243.2 246.70,239.0 247.02,235.4 247.34,232.6 247.66,231.1 247.98,231.3 248.30,233.2 248.62,236.5 248.94,240.7 249.26,245.2 249.58,249.6 249.90,253.2 250.22,255.9 250.54,257.4 250.86,257.5 251.18,256.2 251.50,253.4 251.82,249.5 252.14,244.2 252.46,238.1 252.78,231.8 253.10,225.8 253.42,220.7 253.74,217.1 254.06,215.6 254.38,216.4 254.70,219.3 255.02,224.0 255.34,229.9 255.66,236.3 255.98,242.8 256.30,248.9 256.62,254.5 256.94,259.2 257.26,263.0 257.58,265.8 257.90,267.5 258.22,268.2 258.54,268.0 258.86,266.8 259.18,264.8 259.50,261.9 259.82,258.3 260.14,254.0 260.46,249.1 260.78,243.7 261.10,237.9 261.42,232.0 261.74,226.2 262.06,220.8 262.38,216.2 262.70,212.8 263.02,210.8 263.34,210.4 263.66,211.7 263.98,214.5 264.30,218.6 264.62,223.6 264.94,229.0 265.26,234.6 265.58,240.1 265.90,245.3 266.22,250.2 266.54,254.5 266.86,258.2 267.18,261.4 267.50,264.0 267.82,266.0 268.14,267.5 268.46,268.4 268.78,268.8 269.10,269.0 269.42,269.1 269.74,269.5 270.06,270.2 270.38,271.0 270.70,271.3 271.02,271.3 271.34,271.1 271.66,270.9 271.98,271.2 272.30,271.8 272.62,272.5 272.94,273.2 273.26,273.6 273.58,273.9 273.90,274.0 274.22,274.0 274.54,274.0 274.86,273.9 275.18,273.7 275.50,273.4 275.82,273.0 276.14,272.3 276.46,271.4 276.78,270.0 277.10,268.0 277.42,265.0 277.74,260.9 278.06,255.5 278.38,248.7 278.46,246.8"/>
<polyline points="279.90,205.0 280.22,198.5 280.54,195.7 280.86,197.1 281.18,202.5 281.30,205.3"/>
<polyline points="282.70,246.3 283.02,253.5 283.34,259.3 283.66,263.6 283.98,266.5 284.30,268.4 284.62,269.3 284.94,269.6 285.26,269.3 285.58,268.6 285.90,267.6 286.22,266.5 286.54,265.3 286.86,264.1 287.18,263.1 287.50,262.2 287.82,261.6 288.14,261.0 288.46,260.5 288.78,260.0 289.10,259.4 289.42,258.8 289.74,258.0 290.06,257.2 290.38,256.3 290.70,255.4 291.02,254.6 291.34,253.9 291.66,253.2 291.98,252.6 292.30,251.8 292.62,250.5 292.94,248.5 293.26,245.5 293.58,241.3 293.90,235.9 294.22,229.5 294.54,222.5 294.86,215.4 295.18,209.2 295.50,204.9 295.82,203.1 296.14,203.7 296.46,205.9 296.78,208.6 297.10,210.7 297.42,212.2 297.74,213.4 298.06,215.3 298.38,219.0 298.70,224.8 299.02,232.1 299.34,239.8 299.66,247.1 299.98,253.4 300.30,258.5 300.62,262.3 300.94,264.9 301.26,266.6 301.58,267.7 301.90,268.3 302.22,268.7 302.54,268.7 302.86,268.4 303.18,267.8 303.50,266.8 303.82,265.3 304.14,263.8 304.46,262.6 304.78,262.0 305.10,261.8 305.42,261.3 305.74,260.0 306.06,257.7 306.38,254.2 306.70,249.6 307.02,243.8 307.34,236.9 307.50,233.1"/>
<polyline points="309.18,185.1 309.50,178.2 309.82,173.7 310.14,172.3 310.46,174.1 310.78,178.7 311.10,185.5 311.22,188.4"/>
<polyline points="311.78,202.8 312.10,210.1 312.42,215.3 312.74,217.9 313.06,218.2 313.38,217.6 313.70,218.9 314.02,223.8 314.34,230.8 314.66,237.4 314.98,242.1 315.30,244.6 315.62,245.6 315.94,245.7 316.26,245.4 316.58,245.2 316.90,245.2 317.22,245.6 317.54,246.5 317.86,247.7 318.18,249.2 318.50,251.0 318.82,252.8 319.14,254.8 319.46,256.7 319.78,258.5 320.10,260.3 320.42,261.8 320.74,263.2 321.06,264.5 321.38,265.5 321.70,266.4 322.02,267.1 322.34,267.7 322.66,268.1 322.98,268.4 323.30,268.6 323.62,268.7 323.94,268.7 324.26,268.5 324.58,268.2 324.90,267.8 325.22,267.3 325.54,266.7 325.86,265.9 326.18,265.0 326.50,263.8 326.82,262.2 327.14,260.4 327.46,258.1 327.78,255.4 328.10,252.1 328.42,248.4 328.74,244.1 329.06,239.5 329.38,234.4 329.70,229.2 330.02,224.2 330.34,219.8 330.66,215.9 330.98,212.8 331.30,210.8 331.62,210.0 331.94,210.2 332.26,210.9 332.58,211.6 332.90,211.6 333.22,211.1 333.54,211.4 333.86,214.4 334.18,220.9 334.26,222.9"/>
<polyline points="334.46,227.9 334.78,235.2 335.10,240.4 335.42,243.2 335.74,243.8 336.06,243.0 336.38,241.0 336.70,237.9 337.02,233.8 337.34,228.9 337.66,223.5 337.98,217.9 338.30,212.4 338.62,207.5 338.94,203.4 339.26,200.8 339.58,199.9 339.90,200.8 340.22,203.6 340.54,207.9 340.86,213.2 341.18,219.0 341.50,224.7 341.82,229.9 342.14,233.5 342.46,235.5 342.78,236.1 343.10,235.1 343.42,232.6 343.74,228.9 344.06,224.3 344.38,219.3 344.70,214.7 345.02,211.2 345.34,209.6 345.66,210.2 345.98,213.1 346.30,217.8 346.62,223.5 346.94,229.5 347.26,235.1 347.58,239.7 347.90,243.1 348.22,242.8 348.54,241.1 348.86,238.5 349.18,235.3 349.50,232.2 349.82,229.9 350.14,229.0 350.46,229.7 350.78,231.9 351.10,235.1 351.42,239.0 351.74,243.1 352.06,246.8 352.38,250.1 352.70,252.8 353.02,254.6 353.34,255.8 353.66,256.2 353.98,256.3 354.30,256.8 354.62,256.7 354.94,256.2 355.26,255.1 355.58,253.5 355.90,251.5 356.22,249.1 356.54,246.4 356.86,243.9 357.18,241.8 357.50,240.6 357.82,240.3 358.14,240.8 358.46,241.5 358.78,242.3 359.10,242.9 359.42,243.4 359.74,243.6 360.06,244.1 360.38,244.9 360.70,245.6 361.02,246.1 361.34,246.3 361.66,246.3 361.98,246.3 362.30,246.7 362.62,247.6 362.94,248.9 363.26,250.2 363.58,251.3 363.90,252.0 364.22,252.5 364.54,252.9 364.86,253.2 365.18,253.5 365.50,253.8 365.82,254.2 366.14,254.9 366.46,255.6 366.78,256.4 367.10,257.2 367.42,257.9 367.74,258.7 368.06,259.3 368.38,260.0 368.70,260.6 369.02,261.2 369.34,261.7 369.66,262.3 369.98,262.8 370.30,263.4 370.62,263.9 370.94,264.4 371.26,264.9 371.58,265.3 371.90,265.8 372.22,266.0 372.54,266.2 372.86,266.3 373.18,266.3 373.50,266.3 373.82,266.3 374.14,266.2 374.46,266.0 374.78,265.7 375.10,265.4 375.42,265.1 375.74,264.8 376.06,264.6 376.38,264.5 376.70,264.5 377.02,264.7 377.34,265.0 377.66,265.4 377.98,265.8 378.30,265.8 378.62,265.7 378.94,265.6 379.26,265.3 379.58,264.8 379.90,264.2 380.22,263.4 380.54,262.4 380.86,261.3 381.18,260.0 381.50,258.4 381.82,256.8 382.14,254.9 382.46,253.0 382.78,250.9 383.10,248.6 383.42,246.3 383.74,244.0 384.06,241.8 384.38,239.7 384.70,237.8 385.02,235.9 385.34,234.2 385.66,232.8 385.98,231.7 386.30,230.9 386.62,230.5 386.94,230.5 387.26,230.9 387.58,231.8 387.90,233.0 388.22,234.6 388.54,236.4 388.86,238.3 389.18,240.2 389.50,241.9 389.82,242.9 390.14,242.0 390.46,239.4 390.78,235.8 391.10,232.6 391.42,232.1 391.74,235.5 392.06,241.3 392.38,247.2 392.70,251.8 393.02,254.9 393.34,256.7 393.66,257.7 393.98,258.2 394.30,258.4 394.62,258.4 394.94,258.3 395.26,258.0 395.58,257.6 395.90,256.9 396.22,256.6 396.54,255.8 396.86,254.2 397.18,252.2 397.50,250.4 397.82,249.7 398.14,250.7 398.46,252.8 398.78,254.9 399.10,256.3 399.42,257.1 399.74,257.3 400.06,256.9 400.38,256.2 400.70,255.2 401.02,254.0 401.34,252.4 401.66,250.5 401.98,248.4 402.30,246.6 402.62,244.5 402.94,242.2 403.26,239.7 403.58,237.2 403.90,234.7 404.22,232.4 404.54,230.5 404.86,229.2 405.18,228.4 405.50,228.4 405.82,229.1 406.14,230.2 406.46,231.6 406.78,232.9 407.10,233.9 407.42,234.5 407.74,234.6 408.06,233.7 408.38,232.1 408.70,230.6 409.02,229.5 409.34,229.4 409.66,230.3 409.98,232.1 410.30,234.3 410.62,236.6 410.94,238.6 411.26,240.1 411.58,241.1 411.90,241.6 412.22,241.8 412.54,241.8 412.86,241.6 413.18,241.5 413.50,241.5 413.82,241.7 414.14,241.9 414.46,242.4 414.78,243.1 415.10,244.1 415.42,245.2 415.74,246.5 416.06,247.9 416.38,249.4 416.70,250.9 417.02,252.4 417.34,253.9 417.66,255.2 417.98,256.4 418.30,257.5 418.62,258.4 418.94,259.1 419.26,259.6 419.58,259.9 419.90,260.1 420.22,259.8 420.54,259.4 420.86,258.9 421.18,258.1 421.50,257.2 421.82,256.2 422.14,255.1 422.46,253.9 422.78,252.7 423.10,251.5 423.42,250.3 423.74,249.2 424.06,248.2 424.38,247.3 424.70,246.6 425.02,246.2 425.34,246.0 425.66,246.0 425.98,246.3 426.30,246.9 426.62,247.6 426.94,248.5 427.26,249.5 427.58,250.5 427.90,251.4 428.22,252.3 428.54,252.9 428.86,253.3 429.18,253.5 429.50,253.3 429.82,252.8 430.14,252.0 430.46,250.9 430.78,249.6 431.10,248.0 431.42,246.3 431.74,244.5 432.06,242.7 432.38,241.2 432.70,239.9 433.02,239.0 433.34,238.6 433.66,238.7 433.98,239.3 434.30,240.2 434.62,241.6 434.94,243.1 435.26,244.9 435.58,246.7 435.90,248.5 436.22,250.3 436.54,252.0 436.86,253.6 437.18,255.1 437.50,256.4 437.82,257.6 438.14,258.7 438.46,259.6 438.78,260.4 439.10,261.0 439.42,261.5 439.74,261.8 440.06,261.8 440.38,261.5 440.70,260.8 441.02,259.7 441.34,258.5 441.66,257.6 441.98,257.2 442.30,257.0 442.62,256.3 442.94,254.7 443.26,252.5 443.58,250.8 443.90,250.3 444.22,251.3 444.54,252.7 444.86,253.8 445.18,254.5 445.50,254.8 445.82,255.0 446.14,255.2 446.46,255.7 446.78,256.3 447.10,257.2 447.42,258.1 447.74,259.1 448.06,260.0 448.38,260.9 448.70,261.6 449.02,262.3 449.34,262.8 449.66,263.2 449.98,263.5 450.30,263.8 450.62,263.8 450.94,263.6 451.26,263.2 451.58,262.5 451.90,261.5 452.22,260.4 452.54,259.3 452.86,258.3 453.18,257.9 453.50,258.2 453.82,259.1 454.14,260.5 454.46,262.0 454.78,263.5 455.10,264.8 455.42,265.8 455.74,266.6 456.06,267.2 456.38,267.7 456.70,268.1 457.02,268.3 457.34,268.5 457.66,268.6 457.98,268.7 458.30,268.7 458.62,268.7 458.94,268.6 459.26,268.3 459.58,268.0 459.90,267.6 460.22,267.0 460.54,266.4 460.86,265.5 461.18,264.6 461.50,263.5 461.82,262.3 462.14,261.0 462.46,259.6 462.78,258.1 463.10,256.7 463.42,255.4 463.74,254.2 464.06,253.3 464.38,252.6 464.70,252.3 465.02,252.3 465.34,252.7 465.66,253.3 465.98,254.1 466.30,254.6 466.62,254.8 466.94,254.5 467.26,253.7 467.58,253.0 467.90,253.3 468.22,254.6 468.54,256.2 468.86,257.3 469.18,257.7 469.50,257.4 469.82,256.8 470.14,256.4 470.46,256.4 470.78,257.1 471.10,258.4 471.42,260.0 471.74,261.7 472.06,263.1 472.38,264.3 472.70,264.9 473.02,265.1 473.34,265.0 473.66,264.5 473.98,264.0 474.30,263.5 474.62,263.3 474.94,263.5 475.26,264.1 475.58,264.8 475.90,265.5 476.22,266.0 476.54,266.4 476.86,266.5 477.18,266.4 477.50,266.0 477.82,265.4 478.14,264.7 478.46,264.0 478.78,263.2 479.10,262.6 479.42,262.1 479.74,261.7 480.06,261.6 480.38,261.7 480.70,262.0 481.02,262.4 481.34,263.0 481.66,263.7 481.98,264.5 482.30,265.3 482.62,266.0 482.94,266.7 483.26,267.3 483.58,267.9 483.90,268.2 484.22,268.5 484.54,268.4 484.86,267.9 485.18,266.9 485.50,265.6 485.82,264.4 486.14,264.0 486.46,264.7 486.78,266.0 487.10,267.3 487.42,268.3 487.74,268.8 488.06,269.1 488.38,269.1 488.70,269.1 489.02,269.0 489.34,268.8 489.66,268.7 489.98,268.5 490.30,268.3 490.62,268.1 490.94,267.9 491.26,267.7 491.58,267.4 491.90,267.2 492.22,267.1 492.54,267.0 492.86,266.9 493.18,266.7 493.50,266.4 493.82,266.1 494.14,265.6 494.46,265.1 494.78,264.6 495.10,263.9 495.42,263.3 495.74,262.5 496.06,261.9 496.38,261.2 496.70,260.7 497.02,260.3 497.34,260.0 497.66,260.0 497.98,260.1 498.30,260.4 498.62,260.8 498.94,261.2 499.26,261.5 499.58,261.7 499.90,261.8 500.22,261.7 500.54,261.6 500.86,261.4 501.18,261.2 501.50,261.0 501.82,261.0 502.14,261.0 502.46,261.1 502.78,261.3 503.10,261.4 503.42,261.5 503.74,261.6 504.06,261.7 504.38,261.8 504.70,262.0 505.02,262.2 505.34,262.5 505.66,262.9 505.98,263.4 506.30,263.9 506.62,264.5 506.94,265.0 507.26,265.6 507.58,266.1 507.90,266.5 508.22,266.9 508.54,267.1 508.86,267.2 509.18,267.2 509.50,267.1 509.82,266.8 510.14,266.3 510.46,265.6 510.78,264.7 511.10,263.7 511.42,262.7 511.74,261.5 512.06,260.3 512.38,259.0 512.70,257.8 513.02,256.6 513.34,255.4 513.66,254.3 513.98,253.4 514.30,252.6 514.62,252.0 514.94,251.7 515.26,251.6 515.58,251.7 515.90,252.0 516.22,252.4 516.54,252.9 516.86,253.5 517.18,254.3 517.50,255.3 517.82,256.5 518.14,257.8 518.46,259.2 518.78,260.4 519.10,261.5 519.42,262.3 519.74,262.8 520.06,263.0 520.38,262.6 520.70,261.8 521.02,260.5 521.34,259.3 521.66,258.4 521.98,258.2 522.30,258.7 522.62,259.5 522.94,260.1 523.26,260.4 523.58,260.2 523.90,259.9 524.22,259.6 524.54,259.6 524.86,260.0 525.18,260.9 525.50,262.0 525.82,263.3 526.14,264.5 526.46,265.5 526.78,266.4 527.10,267.0 527.42,267.5 527.74,267.8 528.06,268.0 528.38,268.2 528.70,268.2 529.02,268.3 529.34,268.3 529.66,268.3 529.98,268.2 530.30,268.2 530.62,268.1 530.94,268.1 531.26,268.0 531.58,267.9 531.90,267.8 532.22,267.8 532.54,267.7 532.86,267.6 533.18,267.5 533.50,267.4 533.82,267.3 534.14,267.3 534.46,267.4 534.78,267.4 535.10,267.4 535.42,267.4 535.74,267.4 536.06,267.3 536.38,267.0 536.70,266.4 537.02,265.4 537.34,264.2 537.66,263.0 537.98,262.5 538.30,263.0 538.62,264.2 538.94,265.6 539.26,266.6 539.58,267.4 539.90,267.8 540.22,268.0 540.54,268.1 540.86,268.2 541.18,268.2 541.50,268.2 541.82,268.3 542.14,268.3 542.46,268.3 542.78,268.3 543.10,268.4 543.42,268.4 543.74,268.4 544.06,268.4 544.38,268.4 544.70,268.4 545.02,268.4 545.34,268.3 545.66,268.3 545.98,268.2 546.30,268.3 546.62,268.5 546.94,268.7 547.26,269.0 547.58,269.3 547.90,269.6 548.22,269.8 548.54,270.0 548.86,270.2 549.18,270.4 549.50,270.6 549.82,270.7 550.14,270.9 550.46,271.1 550.78,271.3 551.10,271.5 551.42,271.7 551.74,271.8 552.06,271.9 552.38,271.8 552.70,271.7 553.02,271.6 553.34,271.5 553.66,271.4 553.98,271.2 554.30,271.1 554.62,271.0 554.94,270.9 555.26,270.8 555.58,270.7 555.90,270.6 556.22,270.5 556.54,270.4 556.86,270.3 557.18,270.2 557.50,270.1 557.82,270.0 558.14,269.8 558.46,269.7 558.78,269.5 559.10,269.3 559.42,269.2 559.74,269.0 560.06,268.8 560.38,268.7 560.70,268.5 561.02,268.3 561.34,268.2 561.66,268.0 561.98,267.8 562.30,267.6 562.62,267.5 562.94,267.3 563.26,267.1 563.58,266.9 563.90,266.7 564.22,266.6 564.54,266.5 564.86,266.5 565.18,266.5 565.50,266.4 565.82,266.4 566.14,266.4 566.46,266.3 566.78,266.2 567.10,266.1 567.42,265.9 567.74,265.8 568.06,265.6 568.38,265.3 568.70,265.1 569.02,264.8 569.34,264.4 569.66,264.1 569.98,263.7 570.30,263.4 570.62,263.1 570.94,262.8 571.26,262.4 571.58,262.1 571.90,261.8 572.22,261.6 572.54,261.4 572.86,261.3 573.18,261.2 573.50,261.1 573.82,261.1 574.14,261.1 574.46,261.1 574.78,261.1 575.10,261.2 575.42,261.4 575.74,261.6 576.06,261.9 576.38,262.3 576.70,262.7 577.02,263.2 577.34,263.8 577.66,264.3 577.98,264.9 578.30,265.4 578.62,265.9 578.94,266.4 579.26,266.8 579.58,267.2 579.90,267.6 580.22,267.9 580.54,268.2 580.86,268.4 581.18,268.6 581.50,268.8 581.82,269.0 582.14,269.1 582.46,269.1 582.78,269.2 583.10,269.2 583.42,269.3 583.74,269.3 584.06,269.3 584.38,269.3 584.70,269.3 585.02,269.3 585.34,269.3 585.66,269.3 585.98,269.3 586.30,269.3 586.62,269.3 586.94,269.3 587.26,269.2 587.58,269.2 587.90,269.2 588.22,269.1 588.54,269.0 588.86,268.8 589.18,268.7 589.50,268.6 589.82,268.5 590.14,268.4 590.46,268.2 590.78,268.1 591.10,268.0 591.42,267.9 591.74,267.8 592.06,267.7 592.38,267.6 592.70,267.6 593.02,267.5 593.34,267.5 593.66,267.5 593.98,267.4 594.30,267.4 594.62,267.3 594.94,267.2 595.26,267.2 595.58,267.1 595.90,267.1 596.22,267.0 596.54,267.0 596.86,267.0 597.18,266.9 597.50,266.9 597.82,266.8 597.86,266.8"/>
</g>
<path fill="none" stroke="#ff0000" stroke-width="3.0" stroke-linecap="round" d="M94.58 259.4h0M94.62 258.3h0M94.66 257.1h0M94.70 255.7h0M94.74 254.2h0M94.78 252.5h0M94.82 250.6h0M96.74 250.7h0M96.78 252.9h0M96.82 254.9h0M96.86 256.8h0M96.90 258.4h0M96.94 260.0h0M96.98 261.4h0M97.02 262.6h0M97.06 263.8h0M97.10 264.9h0M105.38 273.8h0M105.42 272.7h0M105.46 271.6h0M105.50 270.3h0M105.54 268.9h0M105.58 267.4h0M105.62 265.8h0M105.66 264.0h0M105.70 262.2h0M105.74 260.2h0M105.78 258.1h0M105.82 256.0h0M105.86 253.8h0M105.90 251.5h0M105.94 249.3h0M105.98 247.0h0M106.02 244.7h0M106.06 242.5h0M106.10 240.4h0M106.14 238.5h0M106.18 236.7h0M106.22 235.1h0M106.26 233.8h0M106.54 233.8h0M106.58 235.1h0M106.62 236.7h0M106.66 238.5h0M106.70 240.5h0M106.74 242.6h0M106.78 244.8h0M106.82 247.0h0M106.86 249.3h0M106.90 251.6h0M106.94 253.8h0M106.98 256.0h0M107.02 258.2h0M107.06 260.2h0M107.10 262.2h0M107.14 264.0h0M107.18 265.8h0M107.22 267.4h0M107.26 268.9h0M107.30 270.3h0M107.34 271.6h0M107.38 272.8h0M107.42 273.8h0M121.14 259.7h0M121.18 258.6h0M121.22 257.5h0M121.26 256.4h0M121.30 255.1h0M121.34 253.8h0M121.38 252.4h0M121.42 250.9h0M121.46 249.2h0M160.18 269.5h0M160.22 268.5h0M160.26 267.4h0M160.30 266.3h0M160.34 265.2h0M160.38 264.0h0M160.42 262.8h0M160.46 261.6h0M160.50 260.4h0M160.54 259.2h0M160.58 258.1h0M160.62 256.9h0M160.66 255.8h0M160.70 254.7h0M160.74 253.6h0M161.50 254.5h0M161.54 255.6h0M161.58 256.7h0M161.62 257.8h0M161.66 259.0h0M161.70 260.2h0M161.74 261.3h0M161.78 262.5h0M161.82 263.7h0M161.86 264.8h0M161.90 265.9h0M161.94 267.0h0M161.98 268.0h0M208.30 263.7h0M208.34 262.6h0M208.38 261.5h0M208.42 260.4h0M208.46 259.2h0M208.50 257.9h0M208.54 256.6h0M208.58 255.3h0M208.62 253.9h0M208.66 252.5h0M208.70 251.0h0M208.74 249.5h0M208.78 247.9h0M208.82 246.4h0M208.86 244.8h0M208.90 243.1h0M208.94 241.5h0M208.98 239.8h0M209.02 238.1h0M209.06 236.4h0M209.10 234.7h0M209.14 233.0h0M209.18 231.4h0M209.22 229.7h0M209.26 228.1h0M209.30 226.5h0M209.34 224.9h0M209.38 223.4h0M209.42 222.0h0M209.46 220.6h0M209.50 219.3h0M209.54 218.1h0M209.58 217.0h0M210.22 216.8h0M210.26 217.9h0M210.30 219.1h0M210.34 220.3h0M210.38 221.7h0M210.42 223.1h0M210.46 224.6h0M210.50 226.1h0M210.54 227.7h0M210.58 229.3h0M210.62 230.9h0M210.66 232.6h0M210.70 234.2h0M210.74 235.9h0M210.78 237.6h0M210.82 239.2h0M210.86 240.9h0M210.90 242.5h0M210.94 244.1h0M210.98 245.7h0M211.02 247.2h0M211.06 248.8h0M211.10 250.2h0M211.14 251.7h0M211.18 253.1h0M211.22 254.4h0M211.26 255.8h0M211.30 257.0h0M211.34 258.2h0M211.38 259.4h0M211.42 260.5h0M211.46 261.6h0M211.50 262.6h0M214.50 261.6h0M214.54 260.6h0M214.58 259.5h0M214.62 258.3h0M214.66 257.1h0M214.70 255.9h0M214.74 254.6h0M214.78 253.3h0M214.82 251.9h0M214.86 250.5h0M214.90 249.0h0M214.94 247.5h0M214.98 245.9h0M215.02 244.3h0M215.06 242.6h0M215.10 241.0h0M215.14 239.3h0M215.18 237.5h0M215.22 235.7h0M215.26 233.9h0M215.30 232.1h0M215.34 230.3h0M215.38 228.5h0M215.42 226.6h0M215.46 224.8h0M215.50 222.9h0M215.54 221.1h0M215.58 219.3h0M215.62 217.6h0M215.66 215.8h0M215.70 214.1h0M215.74 212.5h0M215.78 210.9h0M215.82 209.4h0M215.86 208.0h0M215.90 206.6h0M215.94 205.4h0M215.98 204.2h0M216.62 203.6h0M216.66 204.7h0M216.70 205.8h0M216.74 207.1h0M216.78 208.4h0M216.82 209.8h0M216.86 211.3h0M216.90 212.8h0M216.94 214.3h0M216.98 215.9h0M217.02 217.6h0M217.06 219.2h0M217.10 220.8h0M217.14 222.5h0M217.18 224.1h0M217.22 225.7h0M217.26 227.4h0M217.30 228.9h0M217.34 230.5h0M217.38 232.0h0M217.42 233.5h0M217.46 234.9h0M217.50 236.3h0M217.54 237.6h0M217.58 238.9h0M217.62 240.1h0M217.66 241.2h0M217.70 242.3h0M278.50 245.8h0M278.54 244.7h0M278.58 243.7h0M278.62 242.6h0M278.66 241.6h0M278.70 240.5h0M278.74 239.4h0M278.78 238.2h0M278.82 237.1h0M278.86 235.9h0M278.90 234.7h0M278.94 233.5h0M278.98 232.3h0M279.02 231.1h0M279.06 229.9h0M279.10 228.7h0M279.14 227.4h0M279.18 226.2h0M279.22 224.9h0M279.26 223.7h0M279.30 222.4h0M279.34 221.2h0M279.38 219.9h0M279.42 218.7h0M279.46 217.4h0M279.50 216.2h0M279.54 215.0h0M279.58 213.8h0M279.62 212.6h0M279.66 211.4h0M279.70 210.3h0M279.74 209.2h0M279.78 208.1h0M279.82 207.0h0M279.86 206.0h0M281.34 206.3h0M281.38 207.4h0M281.42 208.4h0M281.46 209.5h0M281.50 210.7h0M281.54 211.8h0M281.58 213.0h0M281.62 214.2h0M281.66 215.4h0M281.70 216.7h0M281.74 217.9h0M281.78 219.2h0M281.82 220.4h0M281.86 221.7h0M281.90 223.0h0M281.94 224.2h0M281.98 225.5h0M282.02 226.7h0M282.06 228.0h0M282.10 229.2h0M282.14 230.4h0M282.18 231.7h0M282.22 232.9h0M282.26 234.1h0M282.30 235.3h0M282.34 236.5h0M282.38 237.6h0M282.42 238.8h0M282.46 239.9h0M282.50 241.0h0M282.54 242.1h0M282.58 243.2h0M282.62 244.2h0M282.66 245.3h0M307.54 232.1h0M307.58 231.0h0M307.62 230.0h0M307.66 228.9h0M307.70 227.9h0M307.74 226.8h0M307.78 225.7h0M307.82 224.6h0M307.86 223.5h0M307.90 222.4h0M307.94 221.2h0M307.98 220.1h0M308.02 218.9h0M308.06 217.7h0M308.10 216.5h0M308.14 215.4h0M308.18 214.2h0M308.22 213.0h0M308.26 211.8h0M308.30 210.5h0M308.34 209.3h0M308.38 208.1h0M308.42 206.9h0M308.46 205.7h0M308.50 204.5h0M308.54 203.3h0M308.58 202.0h0M308.62 200.8h0M308.66 199.6h0M308.70 198.4h0M308.74 197.3h0M308.78 196.1h0M308.82 194.9h0M308.86 193.8h0M308.90 192.6h0M308.94 191.5h0M308.98 190.4h0M309.02 189.3h0M309.06 188.2h0M309.10 187.2h0M309.14 186.1h0M311.26 189.4h0M311.30 190.5h0M311.34 191.5h0M311.38 192.5h0M311.42 193.6h0M311.46 194.6h0M311.50 195.6h0M311.54 196.7h0M311.58 197.7h0M311.62 198.8h0M311.66 199.8h0M311.70 200.8h0M311.74 201.8h0M334.30 223.9h0M334.34 224.9h0M334.38 225.9h0M334.42 226.9h0M95.20 81.6h0M96.50 85.0h0M95.20 91.0h0M96.50 95.7h0M95.20 101.3h0M96.50 111.7h0M95.20 118.8h0M96.50 123.8h0M95.20 134.4h0M96.50 140.4h0M95.20 152.6h0M96.50 163.8h0M95.20 173.9h0M96.50 189.0h0M95.20 193.7h0M96.50 206.0h0M95.20 208.8h0M96.50 217.4h0M95.20 228.5h0M96.50 230.8h0M95.20 236.7h0M96.50 240.3h0M95.20 243.8h0M94.80 246.0h0M96.80 247.0h0M94.80 249.0h0M96.80 250.0h0M94.80 252.0h0M96.80 253.0h0M94.80 255.0h0M96.80 256.0h0M94.80 258.0h0M96.80 259.0h0M94.80 261.0h0M96.80 262.0h0M122.30 11.8h0M123.30 33.0h0M122.30 58.0h0M123.30 86.0h0M122.30 113.0h0M123.30 116.7h0M122.30 137.3h0M123.30 143.9h0M122.20 160.2h0M124.40 167.3h0M122.20 176.3h0M124.40 188.1h0M122.20 195.4h0M124.40 197.7h0M122.20 202.5h0M124.40 207.2h0M122.20 208.4h0M124.40 215.5h0M122.20 219.0h0M124.40 225.0h0M122.20 230.8h0M124.40 236.7h0M122.20 241.5h0M124.40 246.7h0M122.00 250.0h0M124.60 251.5h0M122.00 253.0h0M124.60 254.5h0M122.00 256.0h0M124.60 257.5h0M122.00 259.0h0M124.60 260.5h0M122.00 262.0h0M124.60 263.5h0"/>
<g fill="#00b050"><rect x="95.30" y="300" width="1.00" height="12.4" fill-opacity="0.72"/><rect x="122.50" y="300" width="1.80" height="12.4" fill-opacity="1.00"/><rect x="160.30" y="300" width="4.70" height="12.4" fill-opacity="0.52"/><rect x="183.00" y="300" width="1.00" height="12.4" fill-opacity="0.72"/><rect x="202.90" y="300" width="2.90" height="12.4" fill-opacity="0.52"/><rect x="208.75" y="300" width="2.05" height="12.4" fill-opacity="0.42"/><rect x="215.00" y="300" width="2.10" height="12.4" fill-opacity="1.00"/><rect x="217.90" y="300" width="2.10" height="12.4" fill-opacity="0.72"/><rect x="227.90" y="300" width="2.10" height="12.4" fill-opacity="0.42"/><rect x="247.10" y="300" width="2.10" height="12.4" fill-opacity="0.42"/><rect x="250.00" y="300" width="0.80" height="12.4" fill-opacity="0.72"/><rect x="252.10" y="300" width="2.90" height="12.4" fill-opacity="0.72"/><rect x="262.10" y="300" width="2.70" height="12.4" fill-opacity="0.72"/><rect x="276.90" y="300" width="1.00" height="12.4" fill-opacity="0.72"/><rect x="280.00" y="300" width="1.25" height="12.4" fill-opacity="0.72"/><rect x="282.90" y="300" width="1.30" height="12.4" fill-opacity="0.72"/><rect x="293.00" y="300" width="0.90" height="12.4" fill-opacity="0.72"/><rect x="295.10" y="300" width="2.10" height="12.4" fill-opacity="1.00"/><rect x="297.60" y="300" width="0.90" height="12.4" fill-opacity="0.42"/><rect x="299.00" y="300" width="0.90" height="12.4" fill-opacity="0.72"/><rect x="306.90" y="300" width="0.80" height="12.4" fill-opacity="0.72"/><rect x="309.90" y="300" width="0.80" height="12.4" fill-opacity="0.72"/><rect x="312.60" y="300" width="2.50" height="12.4" fill-opacity="0.42"/><rect x="316.90" y="300" width="0.80" height="12.4" fill-opacity="0.72"/><rect x="330.90" y="300" width="0.80" height="12.4" fill-opacity="0.72"/><rect x="333.70" y="300" width="0.80" height="12.4" fill-opacity="0.72"/><rect x="338.20" y="300" width="2.80" height="12.4" fill-opacity="1.00"/><rect x="341.00" y="300" width="4.50" height="12.4" fill-opacity="0.42"/><rect x="345.50" y="300" width="2.40" height="12.4" fill-opacity="1.00"/><rect x="350.00" y="300" width="0.90" height="12.4" fill-opacity="1.00"/><rect x="352.50" y="300" width="0.80" height="12.4" fill-opacity="0.72"/><rect x="356.40" y="300" width="0.80" height="12.4" fill-opacity="0.42"/><rect x="359.20" y="300" width="2.10" height="12.4" fill-opacity="1.00"/><rect x="361.70" y="300" width="2.05" height="12.4" fill-opacity="0.42"/><rect x="364.20" y="300" width="2.50" height="12.4" fill-opacity="0.72"/><rect x="379.20" y="300" width="0.80" height="12.4" fill-opacity="0.42"/><rect x="382.90" y="300" width="0.80" height="12.4" fill-opacity="0.72"/><rect x="380.00" y="300" width="1.00" height="12.4" fill-opacity="0.42"/><rect x="385.20" y="300" width="3.55" height="12.4" fill-opacity="0.72"/><rect x="390.70" y="300" width="2.20" height="12.4" fill-opacity="0.72"/><rect x="397.80" y="300" width="0.80" height="12.4" fill-opacity="0.72"/><rect x="403.20" y="300" width="1.80" height="12.4" fill-opacity="0.72"/><rect x="405.00" y="300" width="2.00" height="12.4" fill-opacity="1.00"/><rect x="407.00" y="300" width="1.50" height="12.4" fill-opacity="0.52"/><rect x="408.50" y="300" width="3.60" height="12.4" fill-opacity="1.00"/><rect x="412.50" y="300" width="5.00" height="12.4" fill-opacity="0.42"/><rect x="421.00" y="300" width="3.00" height="12.4" fill-opacity="0.72"/><rect x="424.00" y="300" width="2.00" height="12.4" fill-opacity="0.42"/><rect x="426.00" y="300" width="4.00" height="12.4" fill-opacity="0.72"/><rect x="425.80" y="300" width="5.90" height="12.4" fill-opacity="0.52"/><rect x="431.70" y="300" width="5.40" height="12.4" fill-opacity="1.00"/><rect x="440.00" y="300" width="1.70" height="12.4" fill-opacity="1.00"/><rect x="443.60" y="300" width="0.80" height="12.4" fill-opacity="0.72"/><rect x="446.50" y="300" width="1.40" height="12.4" fill-opacity="1.00"/><rect x="452.90" y="300" width="0.80" height="12.4" fill-opacity="0.42"/><rect x="463.20" y="300" width="2.80" height="12.4" fill-opacity="0.72"/><rect x="466.00" y="300" width="5.70" height="12.4" fill-opacity="1.00"/><rect x="473.20" y="300" width="2.80" height="12.4" fill-opacity="1.00"/><rect x="476.00" y="300" width="2.00" height="12.4" fill-opacity="0.72"/><rect x="478.00" y="300" width="2.80" height="12.4" fill-opacity="1.00"/><rect x="482.00" y="300" width="1.75" height="12.4" fill-opacity="0.42"/><rect x="485.80" y="300" width="2.20" height="12.4" fill-opacity="1.00"/><rect x="488.00" y="300" width="2.80" height="12.4" fill-opacity="0.72"/><rect x="492.10" y="300" width="0.90" height="12.4" fill-opacity="0.72"/><rect x="494.00" y="300" width="1.00" height="12.4" fill-opacity="0.72"/><rect x="496.70" y="300" width="3.30" height="12.4" fill-opacity="0.72"/><rect x="500.00" y="300" width="3.00" height="12.4" fill-opacity="1.00"/><rect x="503.00" y="300" width="3.70" height="12.4" fill-opacity="0.72"/><rect x="508.30" y="300" width="1.30" height="12.4" fill-opacity="0.42"/><rect x="512.90" y="300" width="5.40" height="12.4" fill-opacity="1.00"/><rect x="518.75" y="300" width="2.25" height="12.4" fill-opacity="0.72"/><rect x="521.00" y="300" width="2.75" height="12.4" fill-opacity="0.52"/><rect x="525.00" y="300" width="1.70" height="12.4" fill-opacity="0.72"/><rect x="528.75" y="300" width="5.45" height="12.4" fill-opacity="1.00"/><rect x="535.00" y="300" width="5.00" height="12.4" fill-opacity="1.00"/><rect x="540.80" y="300" width="2.70" height="12.4" fill-opacity="0.72"/><rect x="543.50" y="300" width="1.50" height="12.4" fill-opacity="1.00"/><rect x="545.00" y="300" width="3.75" height="12.4" fill-opacity="0.52"/><rect x="550.00" y="300" width="1.25" height="12.4" fill-opacity="0.72"/><rect x="557.90" y="300" width="5.00" height="12.4" fill-opacity="0.42"/><rect x="564.00" y="300" width="1.90" height="12.4" fill-opacity="1.00"/><rect x="568.10" y="300" width="1.90" height="12.4" fill-opacity="1.00"/><rect x="570.00" y="300" width="3.00" height="12.4" fill-opacity="0.72"/><rect x="573.00" y="300" width="1.50" height="12.4" fill-opacity="1.00"/><rect x="574.90" y="300" width="2.60" height="12.4" fill-opacity="1.00"/><rect x="578.60" y="300" width="1.50" height="12.4" fill-opacity="1.00"/><rect x="581.60" y="300" width="0.80" height="12.4" fill-opacity="0.42"/><rect x="584.60" y="300" width="1.15" height="12.4" fill-opacity="1.00"/><rect x="586.10" y="300" width="4.50" height="12.4" fill-opacity="0.42"/><rect x="591.75" y="300" width="2.25" height="12.4" fill-opacity="1.00"/><rect x="594.00" y="300" width="2.00" height="12.4" fill-opacity="0.72"/><rect x="596.00" y="300" width="2.00" height="12.4" fill-opacity="1.00"/></g>
<g fill="#c0504d"><rect x="80.80" y="319" width="1.00" height="12.5" fill-opacity="0.72"/><rect x="91.00" y="319" width="3.70" height="12.5" fill-opacity="0.42"/><rect x="98.00" y="319" width="2.00" height="12.5" fill-opacity="0.52"/><rect x="105.70" y="319" width="1.30" height="12.5" fill-opacity="0.72"/><rect x="111.70" y="319" width="3.00" height="12.5" fill-opacity="0.62"/><rect x="123.00" y="319" width="1.50" height="12.5" fill-opacity="0.42"/><rect x="124.50" y="319" width="1.80" height="12.5" fill-opacity="1.00"/><rect x="130.00" y="319" width="1.30" height="12.5" fill-opacity="0.72"/><rect x="133.00" y="319" width="1.80" height="12.5" fill-opacity="1.00"/><rect x="140.70" y="319" width="3.00" height="12.5" fill-opacity="0.62"/><rect x="145.00" y="319" width="2.50" height="12.5" fill-opacity="0.42"/><rect x="147.50" y="319" width="2.50" height="12.5" fill-opacity="0.72"/><rect x="151.00" y="319" width="2.00" height="12.5" fill-opacity="0.90"/><rect x="153.00" y="319" width="3.00" height="12.5" fill-opacity="0.72"/><rect x="158.00" y="319" width="1.00" height="12.5" fill-opacity="0.72"/><rect x="160.00" y="319" width="4.00" height="12.5" fill-opacity="0.42"/><rect x="165.70" y="319" width="3.60" height="12.5" fill-opacity="1.00"/><rect x="171.00" y="319" width="1.00" height="12.5" fill-opacity="0.72"/><rect x="173.00" y="319" width="4.00" height="12.5" fill-opacity="0.72"/><rect x="178.30" y="319" width="2.70" height="12.5" fill-opacity="0.72"/><rect x="182.00" y="319" width="4.00" height="12.5" fill-opacity="0.57"/><rect x="187.00" y="319" width="2.00" height="12.5" fill-opacity="0.72"/><rect x="190.00" y="319" width="1.50" height="12.5" fill-opacity="0.72"/><rect x="191.50" y="319" width="1.50" height="12.5" fill-opacity="0.42"/><rect x="195.00" y="319" width="1.70" height="12.5" fill-opacity="1.00"/><rect x="198.00" y="319" width="1.70" height="12.5" fill-opacity="1.00"/><rect x="201.00" y="319" width="1.70" height="12.5" fill-opacity="0.72"/><rect x="204.70" y="319" width="1.30" height="12.5" fill-opacity="1.00"/><rect x="207.00" y="319" width="7.00" height="12.5" fill-opacity="0.82"/><rect x="216.00" y="319" width="0.80" height="12.5" fill-opacity="0.72"/><rect x="218.30" y="319" width="6.20" height="12.5" fill-opacity="0.72"/><rect x="224.50" y="319" width="1.00" height="12.5" fill-opacity="0.42"/><rect x="225.50" y="319" width="2.20" height="12.5" fill-opacity="0.72"/><rect x="228.00" y="319" width="4.00" height="12.5" fill-opacity="0.90"/><rect x="232.00" y="319" width="3.00" height="12.5" fill-opacity="0.52"/><rect x="235.00" y="319" width="4.00" height="12.5" fill-opacity="0.72"/><rect x="239.00" y="319" width="3.30" height="12.5" fill-opacity="0.52"/><rect x="243.00" y="319" width="5.00" height="12.5" fill-opacity="0.82"/><rect x="249.00" y="319" width="2.00" height="12.5" fill-opacity="1.00"/><rect x="252.00" y="319" width="2.00" height="12.5" fill-opacity="1.00"/><rect x="255.00" y="319" width="3.00" height="12.5" fill-opacity="0.72"/><rect x="258.00" y="319" width="4.00" height="12.5" fill-opacity="0.52"/><rect x="262.00" y="319" width="2.00" height="12.5" fill-opacity="0.72"/><rect x="264.30" y="319" width="1.40" height="12.5" fill-opacity="0.42"/><rect x="266.00" y="319" width="8.00" height="12.5" fill-opacity="1.00"/><rect x="275.00" y="319" width="7.00" height="12.5" fill-opacity="0.87"/><rect x="283.00" y="319" width="1.00" height="12.5" fill-opacity="1.00"/><rect x="285.00" y="319" width="1.00" height="12.5" fill-opacity="0.72"/><rect x="286.00" y="319" width="2.00" height="12.5" fill-opacity="0.32"/><rect x="288.00" y="319" width="6.00" height="12.5" fill-opacity="0.95"/><rect x="294.00" y="319" width="2.00" height="12.5" fill-opacity="0.52"/><rect x="296.00" y="319" width="5.70" height="12.5" fill-opacity="0.95"/><rect x="301.70" y="319" width="0.80" height="12.5" fill-opacity="0.32"/><rect x="302.3" y="319" width="296" height="12.5"/></g>
<g fill="#fff"><rect x="310.70" y="318.5" width="1.30" height="13.5" fill-opacity="1.00"/><rect x="313.00" y="318.5" width="0.70" height="13.5" fill-opacity="1.00"/><rect x="316.00" y="318.5" width="1.70" height="13.5" fill-opacity="0.50"/><rect x="320.00" y="318.5" width="0.70" height="13.5" fill-opacity="1.00"/><rect x="339.80" y="318.5" width="1.20" height="13.5" fill-opacity="1.00"/><rect x="345.30" y="318.5" width="0.60" height="13.5" fill-opacity="0.50"/><rect x="347.00" y="318.5" width="1.00" height="13.5" fill-opacity="1.00"/><rect x="365.00" y="318.5" width="1.00" height="13.5" fill-opacity="1.00"/><rect x="371.80" y="318.5" width="0.60" height="13.5" fill-opacity="0.50"/><rect x="421.20" y="318.5" width="0.70" height="13.5" fill-opacity="0.80"/><rect x="455.90" y="318.5" width="0.70" height="13.5" fill-opacity="0.80"/><rect x="465.90" y="318.5" width="0.70" height="13.5" fill-opacity="0.80"/><rect x="476.90" y="318.5" width="0.70" height="13.5" fill-opacity="0.80"/><rect x="550.00" y="318.5" width="0.70" height="13.5" fill-opacity="0.80"/><rect x="594.90" y="318.5" width="0.70" height="13.5" fill-opacity="0.80"/></g>
<polyline fill="none" stroke="#0070c0" stroke-width="1.4" stroke-linejoin="round" points="59.5,361.4 60.4,361.4 61.3,361.5 62.2,361.4 63.1,361.5 64.0,361.5 64.9,361.4 65.8,361.5 66.7,361.4 67.6,361.5 68.5,361.4 69.4,361.4 70.3,361.5 71.2,361.6 72.1,361.4 73.0,361.4 73.9,361.5 74.8,361.6 75.7,361.5 76.6,361.5 77.5,361.6 78.4,361.4 79.3,361.6 80.2,361.4 81.1,361.4 82.0,361.4 82.9,361.4 83.8,361.6 84.7,361.4 85.6,361.5 86.5,361.5 87.4,361.5 88.3,361.5 89.2,361.4 90.1,361.4 91.0,361.4 91.9,361.6 91.7,356.7 92.2,363.3 92.8,361.5 93.0,355.8 93.5,367.5 93.7,361.4 94.6,361.5 94.7,355.3 95.2,366.7 95.5,361.5 95.5,361.0 96.0,376.3 96.4,361.4 96.4,355.0 96.9,362.0 97.3,361.6 98.2,361.6 99.1,361.4 100.0,361.5 100.9,361.5 101.8,361.6 102.7,361.6 103.6,361.4 104.5,361.6 105.4,361.4 106.0,358.0 106.5,364.2 106.3,361.5 107.2,361.6 108.1,361.4 109.0,361.5 109.9,361.4 110.8,361.6 111.7,361.6 112.6,361.5 113.5,361.6 114.4,361.4 115.3,361.6 116.2,361.5 117.1,361.5 118.0,361.5 118.9,361.6 119.8,361.6 120.7,361.5 121.6,361.5 122.2,345.0 122.7,370.8 122.5,361.4 123.0,355.0 123.5,370.0 123.4,361.6 124.3,361.5 124.7,356.7 125.2,367.5 125.2,361.6 126.1,361.6 126.4,359.7 126.9,363.3 127.0,361.4 127.9,361.5 128.8,361.6 129.7,361.4 130.6,361.5 131.5,361.4 132.4,361.4 133.3,361.4 134.2,361.6 135.1,361.4 136.0,361.4 136.9,361.5 137.8,361.6 137.7,360.0 138.2,362.5 138.7,361.4 139.6,361.5 140.5,361.5 141.4,361.8 142.3,361.8 143.2,361.8 144.1,361.3 145.0,361.4 145.9,361.4 146.8,361.8 147.2,359.5 147.7,362.8 147.7,361.9 148.6,361.2 149.5,361.2 150.4,361.3 150.5,358.3 151.0,363.3 151.3,361.3 152.2,361.5 153.1,361.6 153.0,359.5 153.5,362.5 154.0,361.3 154.9,361.1 155.8,361.4 156.7,361.4 157.6,361.6 158.5,361.9 159.4,361.7 160.3,361.5 161.2,361.6 162.1,361.7 162.2,359.5 162.7,362.8 163.0,361.1 163.9,361.9 164.8,361.8 165.7,361.8 166.6,361.8 167.5,361.4 168.4,361.4 169.3,361.1 170.2,361.6 171.1,361.1 172.0,361.1 172.9,361.2 173.8,361.2 174.7,361.4 175.6,361.1 176.5,361.1 177.4,361.2 178.3,361.1 179.2,361.4 180.1,361.1 181.0,361.8 181.9,361.6 182.8,361.2 183.7,361.3 183.9,358.3 184.4,363.3 184.6,361.4 185.5,361.4 186.4,361.2 187.3,361.8 188.2,361.9 189.1,361.5 188.9,356.7 189.4,364.2 190.0,361.5 190.5,359.5 191.0,363.0 190.9,361.1 191.8,361.1 192.7,361.4 193.6,361.3 194.5,361.8 195.4,361.2 196.3,361.1 197.2,361.9 198.1,361.5 199.0,361.2 199.9,361.5 200.8,361.1 201.7,361.5 202.6,361.9 203.0,359.0 203.5,363.5 203.5,361.8 204.4,361.7 205.3,361.3 206.2,361.4 207.1,361.2 208.0,361.7 208.9,361.5 208.9,356.3 209.4,366.7 209.8,361.8 210.7,361.3 211.6,361.3 212.2,359.5 212.7,362.8 212.5,361.8 213.4,361.9 214.3,361.8 215.2,361.8 215.5,356.7 216.0,367.0 216.1,361.8 217.0,361.7 217.2,356.7 217.7,365.8 217.9,361.3 218.8,361.5 218.9,359.5 219.4,363.0 219.7,361.4 220.6,361.1 221.5,361.1 222.4,361.3 222.2,359.5 222.7,363.0 223.3,361.3 224.2,361.7 225.1,361.9 226.0,361.5 226.9,361.9 227.8,361.9 228.7,361.9 229.6,361.4 230.5,361.2 231.4,361.3 232.3,361.2 233.2,361.2 234.1,361.6 235.0,361.9 235.9,361.8 236.8,361.5 237.7,361.6 238.6,361.8 239.5,361.1 240.4,361.6 241.3,361.9 242.2,361.8 243.1,361.7 244.0,361.5 244.9,361.2 245.5,358.0 246.0,364.2 245.8,361.8 246.7,361.3 247.6,361.8 248.0,359.5 248.5,363.0 248.5,361.9 249.4,361.4 250.3,361.4 251.2,361.9 251.4,359.5 251.9,363.0 252.1,361.7 253.0,361.2 253.0,358.3 253.5,364.2 253.9,361.2 254.8,361.2 255.7,361.9 256.6,361.8 257.5,361.2 258.4,361.8 259.3,361.9 260.2,361.6 261.1,361.4 262.0,361.5 262.9,361.2 263.8,361.1 264.7,361.9 264.7,360.0 265.2,362.5 265.6,361.6 266.5,361.5 267.4,361.9 268.3,361.4 269.2,361.8 270.1,361.8 271.0,361.2 271.9,361.3 272.8,361.3 273.7,361.3 274.6,361.6 275.5,361.3 275.5,359.5 276.0,363.0 276.4,361.4 277.3,361.2 278.2,361.9 279.1,361.4 280.0,361.5 280.2,355.8 280.7,366.7 280.9,361.6 281.8,361.9 282.7,361.4 283.6,361.9 284.5,361.5 285.4,361.5 285.5,359.5 286.0,363.0 286.3,361.5 287.2,361.1 288.1,361.4 289.0,361.2 289.9,361.1 290.5,357.5 291.0,364.0 290.8,361.8 291.7,361.2 292.6,361.5 293.5,361.7 294.4,361.6 295.3,361.3 295.2,355.3 295.7,364.2 296.2,361.5 296.4,359.0 296.9,363.0 297.1,361.5 298.0,361.8 298.5,352.5 299.0,365.0 298.9,361.1 299.8,361.6 300.7,361.3 301.6,361.3 302.5,361.7 303.4,361.5 304.3,361.6 305.2,361.7 306.1,361.9 307.0,361.4 307.9,361.6 308.8,361.5 309.7,361.5 310.0,348.3 310.5,369.2 310.6,361.7 311.5,361.5 311.7,355.8 312.2,367.5 312.4,361.5 313.3,361.5 313.0,358.5 313.5,364.0 314.2,361.9 315.1,361.7 316.0,361.8 316.9,361.9 317.2,359.5 317.7,363.0 317.8,361.3 318.7,361.6 319.6,361.9 320.5,361.8 321.4,361.2 322.3,361.2 323.2,361.4 324.1,361.1 325.0,361.3 325.9,361.1 326.8,361.7 327.7,361.8 328.6,361.9 329.5,361.2 330.4,361.7 331.3,361.6 331.4,355.8 331.9,366.7 332.2,361.2 333.1,361.8 333.0,359.5 333.5,363.0 334.0,361.9 334.9,361.2 335.8,361.9 336.7,361.4 336.4,359.5 336.9,363.0 337.6,361.5 338.5,361.9 339.4,361.8 339.7,358.5 340.2,364.0 340.3,361.2 341.2,361.4 342.1,361.5 343.0,361.4 343.9,361.2 344.8,361.3 344.7,359.5 345.2,363.0 345.7,361.7 346.6,361.1 347.5,361.5 348.4,361.4 349.3,361.1 350.2,361.3 351.1,361.6 352.0,361.5 352.9,361.1 353.8,361.9 354.7,361.8 355.6,361.9 356.5,361.1 357.4,361.3 358.3,361.1 359.2,361.8 360.1,361.3 361.0,361.2 361.9,361.4 362.8,361.9 363.7,361.8 364.6,361.3 365.5,361.2 366.4,361.9 367.3,361.6 368.2,361.7 369.1,361.1 370.0,361.1 370.9,361.7 371.8,361.4 372.7,361.1 373.6,361.9 374.5,361.6 375.4,361.8 376.3,361.1 377.2,361.8 378.1,361.1 379.0,361.8 379.9,361.5 380.8,361.3 381.7,361.6 382.6,362.0 383.5,361.2 383.9,358.5 384.4,364.0 384.4,361.1 385.3,361.5 385.7,358.5 386.2,364.5 386.2,361.2 387.1,361.0 388.0,361.1 387.7,358.0 388.2,364.0 388.9,361.0 389.8,361.1 390.7,361.3 390.5,358.5 391.0,364.0 391.6,361.3 392.5,361.8 393.4,361.2 394.3,361.5 395.2,361.1 396.1,361.3 397.0,360.9 397.9,361.2 398.8,360.9 399.7,361.8 400.6,361.6 401.5,361.1 402.4,361.5 403.3,362.0 404.2,361.0 405.1,361.9 406.0,361.4 406.4,359.5 406.9,363.0 406.9,361.5 407.8,361.9 408.7,361.4 409.6,361.5 410.5,361.7 411.4,362.1 412.3,361.3 413.2,361.9 414.1,361.7 415.0,361.7 415.9,361.4 416.8,361.3 417.7,361.0 418.6,361.1 419.5,361.0 420.4,361.8 421.3,361.2 422.2,361.1 423.1,361.0 424.0,361.9 424.9,361.9 424.7,359.5 425.2,363.0 425.8,361.7 426.7,361.2 427.6,361.2 428.5,361.3 429.4,361.5 429.7,359.5 430.2,363.0 430.3,361.1 431.2,361.4 432.1,361.2 433.0,362.1 433.9,362.1 434.8,361.6 434.7,358.5 435.2,364.0 435.7,361.2 436.6,362.1 437.5,361.3 438.4,361.3 439.3,360.9 440.2,361.4 441.1,361.5 442.0,361.5 442.2,359.5 442.7,363.0 442.9,361.1 443.8,361.5 444.7,360.9 445.6,361.2 446.5,361.0 447.4,361.4 448.3,361.0 449.2,360.9 450.1,361.3 451.0,361.2 451.9,361.6 452.8,361.5 453.0,359.5 453.5,362.5 453.7,361.8 454.6,361.7 455.5,361.8 456.4,362.0 457.3,361.4 458.2,361.3 459.1,362.1 460.0,361.1 460.9,361.8 461.8,361.7 462.7,361.0 463.6,361.9 464.5,362.0 465.4,361.7 466.3,361.8 467.2,361.9 468.1,361.1 469.0,361.5 469.9,361.5 470.8,361.9 471.7,361.9 472.6,361.9 473.5,361.6 474.4,362.0 475.3,361.7 476.2,361.7 477.1,361.2 478.0,360.9 478.9,361.1 479.8,361.3 479.7,358.3 480.2,362.0 480.7,361.0 481.6,361.9 482.5,361.6 483.4,361.7 484.3,361.7 485.2,361.7 486.1,361.5 487.0,360.9 487.9,361.9 488.8,361.8 489.7,361.5 490.6,361.5 491.5,361.7 492.4,361.0 493.3,361.8 494.2,361.2 495.1,361.0 496.0,361.2 496.9,361.8 497.8,361.1 498.7,361.8 499.6,362.1 500.5,361.5 501.4,361.4 502.3,361.5 503.2,361.7 504.1,361.8 505.0,361.6 505.9,361.7 506.8,361.0 507.7,361.1 508.6,361.2 509.5,361.8 510.4,361.3 511.3,361.6 512.2,360.9 513.1,361.0 514.0,361.2 514.9,361.7 515.8,361.7 516.7,361.7 517.6,361.2 518.5,361.5 519.4,361.5 520.3,361.5 521.2,361.0 522.1,362.0 523.0,361.1 523.9,362.1 524.8,362.0 525.7,360.9 526.6,361.5 527.5,361.9 528.4,362.1 529.3,361.4 530.2,361.2 531.1,361.2 532.0,362.0 532.9,361.2 533.8,361.6 534.7,361.1 535.6,361.5 536.5,362.0 537.4,361.1 538.3,361.9 539.2,361.5 540.1,362.0 541.0,361.7 541.9,361.2 542.8,362.0 543.7,361.5 544.6,360.9 545.5,360.9 546.4,361.5 547.3,361.4 548.2,361.3 549.1,361.1 550.0,361.3 550.9,361.3 551.8,361.9 552.7,360.9 553.6,361.8 554.5,361.9 555.4,361.0 556.3,362.0 557.2,361.8 558.1,362.0 559.0,361.2 559.9,361.3 560.8,361.4 561.7,362.1 562.6,361.6 563.5,361.3 564.4,361.4 565.3,361.2 566.2,361.0 567.1,361.0 568.0,361.9 568.9,361.2 569.8,362.0 570.7,361.2 571.6,361.2 572.5,361.5 573.4,361.1 574.3,361.3 575.2,362.0 576.1,362.0 577.0,361.9 577.9,361.7 578.8,362.0 579.7,362.0 580.6,361.6 581.5,361.8 582.4,361.0 583.3,361.8 584.2,361.4 585.1,361.8 586.0,361.7 586.9,361.2 587.8,361.0 588.7,362.0 589.6,361.1 590.5,361.5 591.4,361.3 592.3,361.3 593.2,361.8 594.1,362.1 595.0,361.2 595.9,361.7 596.8,361.3"/>
<line x1="58.9" y1="4" x2="58.9" y2="382.5" stroke="#505050" stroke-width="1.7"/>
<line x1="58" y1="4.1" x2="599.6" y2="4.1" stroke="#111" stroke-width="1.8"/>
<line x1="598.8" y1="3.3" x2="598.8" y2="382.8" stroke="#111" stroke-width="1.7"/>
<line x1="58" y1="382.3" x2="599.6" y2="382.3" stroke="#111" stroke-width="1.6"/>
<circle cx="446" cy="31.4" r="1.3" fill="#ff0000"/>
<text x="457.7" y="35.5" class="lg">I(obs)</text>
<line x1="437" y1="46.7" x2="456" y2="46.7" stroke="#000" stroke-width="1.3"/>
<text x="457.7" y="50.9" class="lg">I(calc)</text>
<line x1="437" y1="62.7" x2="456" y2="62.7" stroke="#0070c0" stroke-width="1.3"/>
<text x="457.7" y="66.9" class="lg">I(obs)-I(calc)</text>
<line x1="446" y1="76" x2="446" y2="82.5" stroke="#00b050" stroke-width="1.1"/>
<text x="458.3" y="83.2" class="lg">Phase 1</text>
<line x1="446" y1="92.3" x2="446" y2="99" stroke="#c0504d" stroke-width="1.1"/>
<text x="458.3" y="99.2" class="lg">Phase 2</text>
<text transform="translate(242.5,42.8) scale(1,1.12)" class="fx">5x</text>
<text x="337.2" y="420.2" text-anchor="middle" class="xt">2&#952; (&#176;)</text>
<text transform="translate(9.9,174.4) rotate(-90)" text-anchor="middle" class="yt">Intensity (a.u.)</text>
</svg>
</body></html>
